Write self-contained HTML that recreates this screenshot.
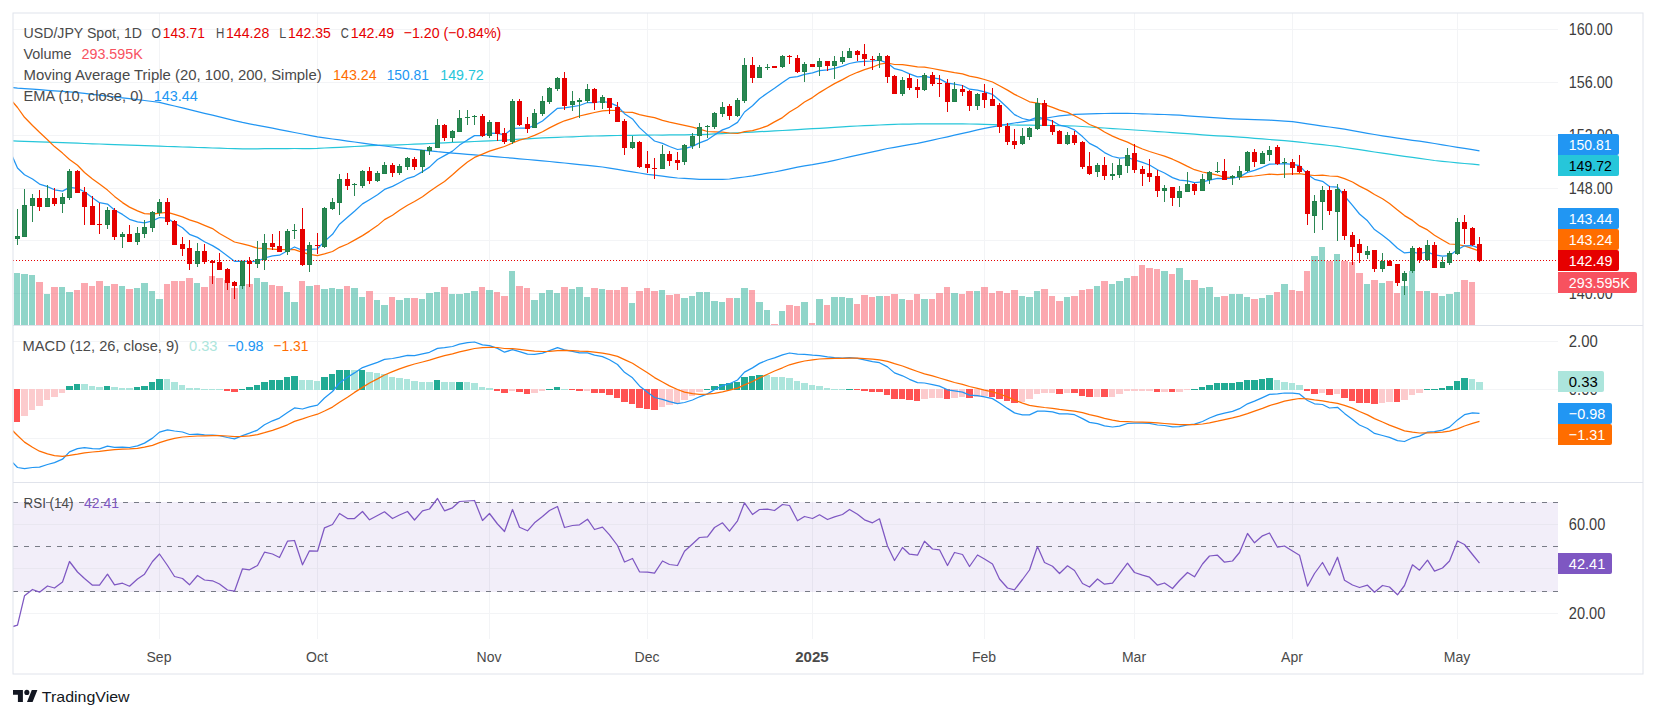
<!DOCTYPE html>
<html><head><meta charset="utf-8"><title>USD/JPY Spot, 1D</title>
<style>html,body{margin:0;padding:0;background:#fff}svg{display:block}</style></head>
<body>
<svg width="1656" height="718" viewBox="0 0 1656 718" font-family="'Liberation Sans', sans-serif">
<rect width="1656" height="718" fill="#fff"/>
<defs>
<clipPath id="cp1"><rect x="13" y="13" width="1545" height="312.5"/></clipPath>
<clipPath id="cp2"><rect x="13" y="325.5" width="1545" height="157.0"/></clipPath>
<clipPath id="cp3"><rect x="13" y="482.5" width="1545" height="156.5"/></clipPath>
</defs>
<g shape-rendering="crispEdges">
<rect x="159" y="13" width="1" height="626" fill="#f3f4f6"/>
<rect x="317" y="13" width="1" height="626" fill="#f3f4f6"/>
<rect x="489" y="13" width="1" height="626" fill="#f3f4f6"/>
<rect x="647" y="13" width="1" height="626" fill="#f3f4f6"/>
<rect x="812" y="13" width="1" height="626" fill="#f3f4f6"/>
<rect x="984" y="13" width="1" height="626" fill="#f3f4f6"/>
<rect x="1134" y="13" width="1" height="626" fill="#f3f4f6"/>
<rect x="1292" y="13" width="1" height="626" fill="#f3f4f6"/>
<rect x="1457" y="13" width="1" height="626" fill="#f3f4f6"/>
<rect x="13" y="29" width="1545" height="1" fill="#f3f4f6"/>
<rect x="13" y="82" width="1545" height="1" fill="#f3f4f6"/>
<rect x="13" y="135" width="1545" height="1" fill="#f3f4f6"/>
<rect x="13" y="188" width="1545" height="1" fill="#f3f4f6"/>
<rect x="13" y="240" width="1545" height="1" fill="#f3f4f6"/>
<rect x="13" y="293" width="1545" height="1" fill="#f3f4f6"/>
<rect x="13" y="341" width="1545" height="1" fill="#f3f4f6"/>
<rect x="13" y="389" width="1545" height="1" fill="#f3f4f6"/>
<rect x="13" y="438" width="1545" height="1" fill="#f3f4f6"/>
<rect x="13" y="502" width="1545" height="90" fill="#f2eef9"/>
<rect x="13" y="524" width="1545" height="1" fill="#e9e7f0"/>
<rect x="13" y="568" width="1545" height="1" fill="#e9e7f0"/>
<rect x="13" y="613" width="1545" height="1" fill="#f3f4f6"/>
<rect x="159" y="502" width="1" height="90" fill="#e6e3ef"/>
<rect x="317" y="502" width="1" height="90" fill="#e6e3ef"/>
<rect x="489" y="502" width="1" height="90" fill="#e6e3ef"/>
<rect x="647" y="502" width="1" height="90" fill="#e6e3ef"/>
<rect x="812" y="502" width="1" height="90" fill="#e6e3ef"/>
<rect x="984" y="502" width="1" height="90" fill="#e6e3ef"/>
<rect x="1134" y="502" width="1" height="90" fill="#e6e3ef"/>
<rect x="1292" y="502" width="1" height="90" fill="#e6e3ef"/>
<rect x="1457" y="502" width="1" height="90" fill="#e6e3ef"/>
<line x1="13" y1="502.5" x2="1558" y2="502.5" stroke="#787b86" stroke-width="1" stroke-dasharray="5 6"/>
<line x1="13" y1="546.5" x2="1558" y2="546.5" stroke="#787b86" stroke-width="1" stroke-dasharray="5 6"/>
<line x1="13" y1="591.5" x2="1558" y2="591.5" stroke="#787b86" stroke-width="1" stroke-dasharray="5 6"/>
</g>
<g shape-rendering="crispEdges">
<rect x="14" y="273" width="6" height="52" fill="#22ab94" fill-opacity="0.5"/>
<rect x="21" y="274" width="7" height="51" fill="#22ab94" fill-opacity="0.5"/>
<rect x="29" y="275" width="6" height="50" fill="#22ab94" fill-opacity="0.5"/>
<rect x="36" y="282" width="7" height="43" fill="#f7525f" fill-opacity="0.5"/>
<rect x="44" y="294" width="6" height="31" fill="#22ab94" fill-opacity="0.5"/>
<rect x="51" y="287" width="7" height="38" fill="#f7525f" fill-opacity="0.5"/>
<rect x="59" y="287" width="6" height="38" fill="#22ab94" fill-opacity="0.5"/>
<rect x="66" y="292" width="7" height="33" fill="#22ab94" fill-opacity="0.5"/>
<rect x="74" y="290" width="6" height="35" fill="#f7525f" fill-opacity="0.5"/>
<rect x="81" y="283" width="7" height="42" fill="#f7525f" fill-opacity="0.5"/>
<rect x="89" y="286" width="6" height="39" fill="#f7525f" fill-opacity="0.5"/>
<rect x="96" y="281" width="7" height="44" fill="#f7525f" fill-opacity="0.5"/>
<rect x="104" y="286" width="6" height="39" fill="#22ab94" fill-opacity="0.5"/>
<rect x="111" y="284" width="7" height="41" fill="#f7525f" fill-opacity="0.5"/>
<rect x="119" y="286" width="6" height="39" fill="#22ab94" fill-opacity="0.5"/>
<rect x="126" y="289" width="7" height="36" fill="#f7525f" fill-opacity="0.5"/>
<rect x="134" y="288" width="6" height="37" fill="#22ab94" fill-opacity="0.5"/>
<rect x="141" y="283" width="7" height="42" fill="#22ab94" fill-opacity="0.5"/>
<rect x="149" y="291" width="6" height="34" fill="#22ab94" fill-opacity="0.5"/>
<rect x="156" y="299" width="7" height="26" fill="#22ab94" fill-opacity="0.5"/>
<rect x="164" y="284" width="6" height="41" fill="#f7525f" fill-opacity="0.5"/>
<rect x="171" y="281" width="7" height="44" fill="#f7525f" fill-opacity="0.5"/>
<rect x="179" y="281" width="6" height="44" fill="#f7525f" fill-opacity="0.5"/>
<rect x="186" y="278" width="7" height="47" fill="#f7525f" fill-opacity="0.5"/>
<rect x="194" y="283" width="6" height="42" fill="#22ab94" fill-opacity="0.5"/>
<rect x="201" y="287" width="7" height="38" fill="#f7525f" fill-opacity="0.5"/>
<rect x="209" y="276" width="6" height="49" fill="#f7525f" fill-opacity="0.5"/>
<rect x="216" y="278" width="7" height="47" fill="#f7525f" fill-opacity="0.5"/>
<rect x="224" y="280" width="6" height="45" fill="#f7525f" fill-opacity="0.5"/>
<rect x="231" y="288" width="7" height="37" fill="#f7525f" fill-opacity="0.5"/>
<rect x="239" y="285" width="6" height="40" fill="#22ab94" fill-opacity="0.5"/>
<rect x="246" y="284" width="7" height="41" fill="#f7525f" fill-opacity="0.5"/>
<rect x="254" y="278" width="6" height="47" fill="#22ab94" fill-opacity="0.5"/>
<rect x="261" y="282" width="7" height="43" fill="#22ab94" fill-opacity="0.5"/>
<rect x="269" y="285" width="6" height="40" fill="#f7525f" fill-opacity="0.5"/>
<rect x="276" y="286" width="7" height="39" fill="#f7525f" fill-opacity="0.5"/>
<rect x="284" y="292" width="6" height="33" fill="#22ab94" fill-opacity="0.5"/>
<rect x="291" y="302" width="7" height="23" fill="#22ab94" fill-opacity="0.5"/>
<rect x="299" y="281" width="6" height="44" fill="#f7525f" fill-opacity="0.5"/>
<rect x="306" y="286" width="7" height="39" fill="#22ab94" fill-opacity="0.5"/>
<rect x="314" y="285" width="6" height="40" fill="#f7525f" fill-opacity="0.5"/>
<rect x="321" y="289" width="7" height="36" fill="#22ab94" fill-opacity="0.5"/>
<rect x="329" y="288" width="6" height="37" fill="#22ab94" fill-opacity="0.5"/>
<rect x="336" y="289" width="7" height="36" fill="#22ab94" fill-opacity="0.5"/>
<rect x="344" y="286" width="6" height="39" fill="#f7525f" fill-opacity="0.5"/>
<rect x="351" y="288" width="7" height="37" fill="#22ab94" fill-opacity="0.5"/>
<rect x="359" y="297" width="6" height="28" fill="#22ab94" fill-opacity="0.5"/>
<rect x="366" y="291" width="7" height="34" fill="#f7525f" fill-opacity="0.5"/>
<rect x="374" y="300" width="6" height="25" fill="#22ab94" fill-opacity="0.5"/>
<rect x="381" y="305" width="7" height="20" fill="#22ab94" fill-opacity="0.5"/>
<rect x="389" y="297" width="6" height="28" fill="#f7525f" fill-opacity="0.5"/>
<rect x="396" y="300" width="7" height="25" fill="#22ab94" fill-opacity="0.5"/>
<rect x="404" y="298" width="6" height="27" fill="#22ab94" fill-opacity="0.5"/>
<rect x="411" y="298" width="7" height="27" fill="#f7525f" fill-opacity="0.5"/>
<rect x="419" y="299" width="6" height="26" fill="#22ab94" fill-opacity="0.5"/>
<rect x="426" y="293" width="7" height="32" fill="#22ab94" fill-opacity="0.5"/>
<rect x="434" y="292" width="6" height="33" fill="#22ab94" fill-opacity="0.5"/>
<rect x="441" y="287" width="7" height="38" fill="#f7525f" fill-opacity="0.5"/>
<rect x="449" y="294" width="6" height="31" fill="#22ab94" fill-opacity="0.5"/>
<rect x="456" y="294" width="7" height="31" fill="#22ab94" fill-opacity="0.5"/>
<rect x="464" y="293" width="6" height="32" fill="#22ab94" fill-opacity="0.5"/>
<rect x="471" y="291" width="7" height="34" fill="#22ab94" fill-opacity="0.5"/>
<rect x="479" y="287" width="6" height="38" fill="#f7525f" fill-opacity="0.5"/>
<rect x="486" y="290" width="7" height="35" fill="#22ab94" fill-opacity="0.5"/>
<rect x="494" y="292" width="6" height="33" fill="#f7525f" fill-opacity="0.5"/>
<rect x="501" y="296" width="7" height="29" fill="#f7525f" fill-opacity="0.5"/>
<rect x="509" y="271" width="6" height="54" fill="#22ab94" fill-opacity="0.5"/>
<rect x="516" y="286" width="7" height="39" fill="#f7525f" fill-opacity="0.5"/>
<rect x="524" y="288" width="6" height="37" fill="#f7525f" fill-opacity="0.5"/>
<rect x="531" y="300" width="7" height="25" fill="#22ab94" fill-opacity="0.5"/>
<rect x="539" y="293" width="6" height="32" fill="#22ab94" fill-opacity="0.5"/>
<rect x="546" y="290" width="7" height="35" fill="#22ab94" fill-opacity="0.5"/>
<rect x="554" y="293" width="6" height="32" fill="#22ab94" fill-opacity="0.5"/>
<rect x="561" y="287" width="7" height="38" fill="#f7525f" fill-opacity="0.5"/>
<rect x="569" y="289" width="6" height="36" fill="#22ab94" fill-opacity="0.5"/>
<rect x="576" y="287" width="7" height="38" fill="#22ab94" fill-opacity="0.5"/>
<rect x="584" y="297" width="6" height="28" fill="#22ab94" fill-opacity="0.5"/>
<rect x="591" y="288" width="7" height="37" fill="#f7525f" fill-opacity="0.5"/>
<rect x="599" y="289" width="6" height="36" fill="#22ab94" fill-opacity="0.5"/>
<rect x="606" y="290" width="7" height="35" fill="#f7525f" fill-opacity="0.5"/>
<rect x="614" y="290" width="6" height="35" fill="#f7525f" fill-opacity="0.5"/>
<rect x="621" y="287" width="7" height="38" fill="#f7525f" fill-opacity="0.5"/>
<rect x="629" y="303" width="6" height="22" fill="#22ab94" fill-opacity="0.5"/>
<rect x="636" y="291" width="7" height="34" fill="#f7525f" fill-opacity="0.5"/>
<rect x="644" y="288" width="6" height="37" fill="#f7525f" fill-opacity="0.5"/>
<rect x="651" y="291" width="7" height="34" fill="#f7525f" fill-opacity="0.5"/>
<rect x="659" y="290" width="6" height="35" fill="#22ab94" fill-opacity="0.5"/>
<rect x="666" y="295" width="7" height="30" fill="#f7525f" fill-opacity="0.5"/>
<rect x="674" y="294" width="6" height="31" fill="#f7525f" fill-opacity="0.5"/>
<rect x="681" y="298" width="7" height="27" fill="#22ab94" fill-opacity="0.5"/>
<rect x="689" y="296" width="6" height="29" fill="#22ab94" fill-opacity="0.5"/>
<rect x="696" y="292" width="7" height="33" fill="#22ab94" fill-opacity="0.5"/>
<rect x="704" y="292" width="6" height="33" fill="#22ab94" fill-opacity="0.5"/>
<rect x="711" y="301" width="7" height="24" fill="#22ab94" fill-opacity="0.5"/>
<rect x="719" y="302" width="6" height="23" fill="#22ab94" fill-opacity="0.5"/>
<rect x="726" y="298" width="7" height="27" fill="#f7525f" fill-opacity="0.5"/>
<rect x="734" y="298" width="6" height="27" fill="#22ab94" fill-opacity="0.5"/>
<rect x="741" y="288" width="7" height="37" fill="#22ab94" fill-opacity="0.5"/>
<rect x="749" y="290" width="6" height="35" fill="#f7525f" fill-opacity="0.5"/>
<rect x="756" y="302" width="7" height="23" fill="#22ab94" fill-opacity="0.5"/>
<rect x="764" y="310" width="6" height="15" fill="#22ab94" fill-opacity="0.5"/>
<rect x="771" y="324" width="7" height="1" fill="#f7525f" fill-opacity="0.5"/>
<rect x="779" y="311" width="6" height="14" fill="#22ab94" fill-opacity="0.5"/>
<rect x="786" y="305" width="7" height="20" fill="#f7525f" fill-opacity="0.5"/>
<rect x="794" y="306" width="6" height="19" fill="#f7525f" fill-opacity="0.5"/>
<rect x="801" y="302" width="7" height="23" fill="#22ab94" fill-opacity="0.5"/>
<rect x="809" y="323" width="6" height="2" fill="#f7525f" fill-opacity="0.5"/>
<rect x="816" y="299" width="7" height="26" fill="#22ab94" fill-opacity="0.5"/>
<rect x="824" y="305" width="6" height="20" fill="#f7525f" fill-opacity="0.5"/>
<rect x="831" y="297" width="7" height="28" fill="#22ab94" fill-opacity="0.5"/>
<rect x="839" y="297" width="6" height="28" fill="#22ab94" fill-opacity="0.5"/>
<rect x="846" y="298" width="7" height="27" fill="#22ab94" fill-opacity="0.5"/>
<rect x="854" y="304" width="6" height="21" fill="#f7525f" fill-opacity="0.5"/>
<rect x="861" y="295" width="7" height="30" fill="#f7525f" fill-opacity="0.5"/>
<rect x="869" y="297" width="6" height="28" fill="#f7525f" fill-opacity="0.5"/>
<rect x="876" y="296" width="7" height="29" fill="#22ab94" fill-opacity="0.5"/>
<rect x="884" y="296" width="6" height="29" fill="#f7525f" fill-opacity="0.5"/>
<rect x="891" y="294" width="7" height="31" fill="#f7525f" fill-opacity="0.5"/>
<rect x="899" y="299" width="6" height="26" fill="#22ab94" fill-opacity="0.5"/>
<rect x="906" y="300" width="7" height="25" fill="#f7525f" fill-opacity="0.5"/>
<rect x="914" y="294" width="6" height="31" fill="#f7525f" fill-opacity="0.5"/>
<rect x="921" y="299" width="7" height="26" fill="#22ab94" fill-opacity="0.5"/>
<rect x="929" y="299" width="6" height="26" fill="#f7525f" fill-opacity="0.5"/>
<rect x="936" y="293" width="7" height="32" fill="#f7525f" fill-opacity="0.5"/>
<rect x="944" y="287" width="6" height="38" fill="#f7525f" fill-opacity="0.5"/>
<rect x="951" y="293" width="7" height="32" fill="#22ab94" fill-opacity="0.5"/>
<rect x="959" y="294" width="6" height="31" fill="#f7525f" fill-opacity="0.5"/>
<rect x="966" y="291" width="7" height="34" fill="#f7525f" fill-opacity="0.5"/>
<rect x="974" y="291" width="6" height="34" fill="#22ab94" fill-opacity="0.5"/>
<rect x="981" y="287" width="7" height="38" fill="#f7525f" fill-opacity="0.5"/>
<rect x="989" y="293" width="6" height="32" fill="#f7525f" fill-opacity="0.5"/>
<rect x="996" y="291" width="7" height="34" fill="#f7525f" fill-opacity="0.5"/>
<rect x="1004" y="293" width="6" height="32" fill="#f7525f" fill-opacity="0.5"/>
<rect x="1011" y="290" width="7" height="35" fill="#f7525f" fill-opacity="0.5"/>
<rect x="1019" y="296" width="6" height="29" fill="#22ab94" fill-opacity="0.5"/>
<rect x="1026" y="297" width="7" height="28" fill="#22ab94" fill-opacity="0.5"/>
<rect x="1034" y="291" width="6" height="34" fill="#22ab94" fill-opacity="0.5"/>
<rect x="1041" y="289" width="7" height="36" fill="#f7525f" fill-opacity="0.5"/>
<rect x="1049" y="296" width="6" height="29" fill="#f7525f" fill-opacity="0.5"/>
<rect x="1056" y="301" width="7" height="24" fill="#f7525f" fill-opacity="0.5"/>
<rect x="1064" y="297" width="6" height="28" fill="#22ab94" fill-opacity="0.5"/>
<rect x="1071" y="296" width="7" height="29" fill="#f7525f" fill-opacity="0.5"/>
<rect x="1079" y="290" width="6" height="35" fill="#f7525f" fill-opacity="0.5"/>
<rect x="1086" y="289" width="7" height="36" fill="#f7525f" fill-opacity="0.5"/>
<rect x="1094" y="286" width="6" height="39" fill="#22ab94" fill-opacity="0.5"/>
<rect x="1101" y="281" width="7" height="44" fill="#f7525f" fill-opacity="0.5"/>
<rect x="1109" y="284" width="6" height="41" fill="#22ab94" fill-opacity="0.5"/>
<rect x="1116" y="281" width="7" height="44" fill="#22ab94" fill-opacity="0.5"/>
<rect x="1124" y="278" width="6" height="47" fill="#22ab94" fill-opacity="0.5"/>
<rect x="1131" y="276" width="7" height="49" fill="#f7525f" fill-opacity="0.5"/>
<rect x="1139" y="265" width="6" height="60" fill="#f7525f" fill-opacity="0.5"/>
<rect x="1146" y="268" width="7" height="57" fill="#f7525f" fill-opacity="0.5"/>
<rect x="1154" y="269" width="6" height="56" fill="#f7525f" fill-opacity="0.5"/>
<rect x="1161" y="271" width="7" height="54" fill="#22ab94" fill-opacity="0.5"/>
<rect x="1169" y="274" width="6" height="51" fill="#f7525f" fill-opacity="0.5"/>
<rect x="1176" y="268" width="7" height="57" fill="#22ab94" fill-opacity="0.5"/>
<rect x="1184" y="280" width="6" height="45" fill="#22ab94" fill-opacity="0.5"/>
<rect x="1191" y="280" width="7" height="45" fill="#f7525f" fill-opacity="0.5"/>
<rect x="1199" y="288" width="6" height="37" fill="#22ab94" fill-opacity="0.5"/>
<rect x="1206" y="287" width="7" height="38" fill="#22ab94" fill-opacity="0.5"/>
<rect x="1214" y="297" width="6" height="28" fill="#22ab94" fill-opacity="0.5"/>
<rect x="1221" y="296" width="7" height="29" fill="#f7525f" fill-opacity="0.5"/>
<rect x="1229" y="294" width="6" height="31" fill="#22ab94" fill-opacity="0.5"/>
<rect x="1236" y="294" width="7" height="31" fill="#22ab94" fill-opacity="0.5"/>
<rect x="1244" y="297" width="6" height="28" fill="#22ab94" fill-opacity="0.5"/>
<rect x="1251" y="299" width="7" height="26" fill="#f7525f" fill-opacity="0.5"/>
<rect x="1259" y="298" width="6" height="27" fill="#22ab94" fill-opacity="0.5"/>
<rect x="1266" y="295" width="7" height="30" fill="#22ab94" fill-opacity="0.5"/>
<rect x="1274" y="292" width="6" height="33" fill="#f7525f" fill-opacity="0.5"/>
<rect x="1281" y="284" width="7" height="41" fill="#22ab94" fill-opacity="0.5"/>
<rect x="1289" y="290" width="6" height="35" fill="#f7525f" fill-opacity="0.5"/>
<rect x="1296" y="291" width="7" height="34" fill="#f7525f" fill-opacity="0.5"/>
<rect x="1304" y="271" width="6" height="54" fill="#f7525f" fill-opacity="0.5"/>
<rect x="1311" y="256" width="7" height="69" fill="#22ab94" fill-opacity="0.5"/>
<rect x="1319" y="247" width="6" height="78" fill="#22ab94" fill-opacity="0.5"/>
<rect x="1326" y="261" width="7" height="64" fill="#f7525f" fill-opacity="0.5"/>
<rect x="1334" y="254" width="6" height="71" fill="#22ab94" fill-opacity="0.5"/>
<rect x="1341" y="261" width="7" height="64" fill="#f7525f" fill-opacity="0.5"/>
<rect x="1349" y="262" width="6" height="63" fill="#f7525f" fill-opacity="0.5"/>
<rect x="1356" y="273" width="7" height="52" fill="#f7525f" fill-opacity="0.5"/>
<rect x="1364" y="284" width="6" height="41" fill="#22ab94" fill-opacity="0.5"/>
<rect x="1371" y="280" width="7" height="45" fill="#f7525f" fill-opacity="0.5"/>
<rect x="1379" y="283" width="6" height="42" fill="#22ab94" fill-opacity="0.5"/>
<rect x="1386" y="281" width="7" height="44" fill="#f7525f" fill-opacity="0.5"/>
<rect x="1394" y="293" width="6" height="32" fill="#f7525f" fill-opacity="0.5"/>
<rect x="1401" y="286" width="7" height="39" fill="#22ab94" fill-opacity="0.5"/>
<rect x="1409" y="271" width="6" height="54" fill="#22ab94" fill-opacity="0.5"/>
<rect x="1416" y="291" width="7" height="34" fill="#f7525f" fill-opacity="0.5"/>
<rect x="1424" y="291" width="6" height="34" fill="#22ab94" fill-opacity="0.5"/>
<rect x="1431" y="293" width="7" height="32" fill="#f7525f" fill-opacity="0.5"/>
<rect x="1439" y="296" width="6" height="29" fill="#22ab94" fill-opacity="0.5"/>
<rect x="1446" y="294" width="7" height="31" fill="#22ab94" fill-opacity="0.5"/>
<rect x="1454" y="292" width="6" height="33" fill="#22ab94" fill-opacity="0.5"/>
<rect x="1461" y="280" width="7" height="45" fill="#f7525f" fill-opacity="0.5"/>
<rect x="1469" y="282" width="6" height="43" fill="#f7525f" fill-opacity="0.5"/>
</g>
<g clip-path="url(#cp1)">
<polyline points="9.5,140.8 17.5,141.1 24.5,141.3 32.5,141.6 39.5,141.9 47.5,142.1 54.5,142.4 62.5,142.7 69.5,142.9 77.5,143.2 84.5,143.5 92.5,143.8 99.5,144.0 107.5,144.3 114.5,144.6 122.5,144.9 129.5,145.1 137.5,145.4 144.5,145.7 152.5,145.9 159.5,146.2 167.5,146.5 174.5,146.7 182.5,147.0 189.5,147.2 197.5,147.5 204.5,147.7 212.5,148.0 219.5,148.2 227.5,148.5 234.5,148.7 242.5,148.9 249.5,148.8 257.5,148.8 264.5,148.7 272.5,148.7 279.5,148.6 287.5,148.6 294.5,148.5 302.5,148.5 309.5,148.5 317.5,148.4 324.5,148.0 332.5,147.6 339.5,147.3 347.5,146.9 354.5,146.5 362.5,146.1 369.5,145.7 377.5,145.4 384.5,145.2 392.5,145.1 399.5,144.9 407.5,144.5 414.5,144.2 422.5,143.8 429.5,143.5 437.5,143.1 444.5,142.8 452.5,142.4 459.5,142.1 467.5,141.8 474.5,141.5 482.5,141.2 489.5,140.9 497.5,140.5 504.5,140.1 512.5,139.6 519.5,139.2 527.5,138.8 534.5,138.4 542.5,137.9 549.5,137.6 557.5,137.3 564.5,137.0 572.5,136.8 579.5,136.5 587.5,136.2 594.5,136.0 602.5,135.8 609.5,135.7 617.5,135.5 624.5,135.4 632.5,135.3 639.5,135.2 647.5,135.1 654.5,135.0 662.5,135.0 669.5,134.9 677.5,134.8 684.5,134.8 692.5,134.7 699.5,134.6 707.5,134.3 714.5,133.9 722.5,133.6 729.5,133.2 737.5,132.8 744.5,132.5 752.5,132.1 759.5,131.7 767.5,131.3 774.5,130.9 782.5,130.5 789.5,130.1 797.5,129.6 804.5,129.2 812.5,128.7 819.5,128.3 827.5,127.8 834.5,127.4 842.5,126.9 849.5,126.4 857.5,126.0 864.5,125.7 872.5,125.3 879.5,125.0 887.5,124.6 894.5,124.3 902.5,124.0 909.5,124.0 917.5,123.9 924.5,123.9 932.5,123.9 939.5,123.9 947.5,123.8 954.5,123.8 962.5,123.8 969.5,124.0 977.5,124.2 984.5,124.4 992.5,124.6 999.5,124.8 1007.5,124.9 1014.5,125.0 1022.5,125.1 1029.5,125.2 1037.5,125.3 1044.5,125.4 1052.5,125.5 1059.5,125.7 1067.5,125.8 1074.5,126.0 1082.5,126.5 1089.5,127.0 1097.5,127.6 1104.5,128.0 1112.5,128.6 1119.5,129.0 1127.5,129.5 1134.5,130.0 1142.5,130.5 1149.5,131.0 1157.5,131.6 1164.5,132.0 1172.5,132.6 1179.5,133.1 1187.5,133.7 1194.5,134.2 1202.5,134.8 1209.5,135.3 1217.5,135.8 1224.5,136.2 1232.5,136.6 1239.5,137.1 1247.5,137.7 1254.5,138.3 1262.5,138.9 1269.5,139.5 1277.5,140.1 1284.5,140.7 1292.5,141.3 1299.5,142.1 1307.5,143.0 1314.5,143.8 1322.5,144.7 1329.5,145.5 1337.5,146.4 1344.5,147.5 1352.5,148.7 1359.5,149.7 1367.5,150.9 1374.5,152.0 1382.5,153.2 1389.5,154.2 1397.5,155.3 1404.5,156.3 1412.5,157.4 1419.5,158.4 1427.5,159.5 1434.5,160.5 1442.5,161.3 1449.5,162.0 1457.5,162.8 1464.5,163.5 1472.5,164.2 1479.5,164.9" fill="none" stroke="#26c6da" stroke-width="1.25" stroke-linejoin="round" stroke-linecap="butt"/>
<polyline points="9.5,87.3 17.5,88.1 24.5,88.6 32.5,89.2 39.5,89.7 47.5,90.3 54.5,90.8 62.5,91.4 69.5,91.9 77.5,92.6 84.5,93.4 92.5,94.4 99.5,95.2 107.5,96.1 114.5,97.0 122.5,97.9 129.5,98.7 137.5,99.7 144.5,100.5 152.5,101.5 159.5,102.3 167.5,104.3 174.5,106.0 182.5,107.9 189.5,109.6 197.5,111.6 204.5,113.3 212.5,115.2 219.5,116.9 227.5,118.9 234.5,120.6 242.5,122.4 249.5,123.8 257.5,125.3 264.5,126.7 272.5,128.2 279.5,129.6 287.5,131.1 294.5,132.5 302.5,134.0 309.5,135.4 317.5,136.9 324.5,137.9 332.5,139.0 339.5,139.9 347.5,141.1 354.5,142.0 362.5,143.1 369.5,144.1 377.5,145.2 384.5,146.0 392.5,147.0 399.5,147.8 407.5,148.7 414.5,149.3 422.5,150.2 429.5,150.8 437.5,151.7 444.5,152.3 452.5,153.1 459.5,153.7 467.5,154.3 474.5,154.9 482.5,155.5 489.5,156.1 497.5,156.8 504.5,157.5 512.5,158.2 519.5,158.8 527.5,159.5 534.5,160.2 542.5,160.9 549.5,161.5 557.5,162.3 564.5,163.0 572.5,163.8 579.5,164.6 587.5,165.4 594.5,166.1 602.5,167.0 609.5,168.1 617.5,169.4 624.5,170.6 632.5,171.9 639.5,173.0 647.5,174.3 654.5,175.2 662.5,176.2 669.5,177.1 677.5,178.0 684.5,178.4 692.5,178.9 699.5,179.3 707.5,179.4 714.5,179.4 722.5,179.4 729.5,179.0 737.5,177.9 744.5,177.0 752.5,175.9 759.5,174.7 767.5,173.2 774.5,172.0 782.5,170.3 789.5,168.9 797.5,167.2 804.5,165.9 812.5,164.6 819.5,163.3 827.5,161.8 834.5,160.3 842.5,158.5 849.5,156.9 857.5,155.2 864.5,153.6 872.5,151.8 879.5,150.3 887.5,148.5 894.5,147.3 902.5,145.9 909.5,144.7 917.5,143.4 924.5,141.8 932.5,140.1 939.5,138.5 947.5,136.8 954.5,135.2 962.5,133.4 969.5,131.8 977.5,129.9 984.5,128.3 992.5,126.9 999.5,125.7 1007.5,124.2 1014.5,123.0 1022.5,121.8 1029.5,120.7 1037.5,119.5 1044.5,118.4 1052.5,117.0 1059.5,115.9 1067.5,115.1 1074.5,114.4 1082.5,114.1 1089.5,113.9 1097.5,113.6 1104.5,113.5 1112.5,113.4 1119.5,113.4 1127.5,113.3 1134.5,113.5 1142.5,113.8 1149.5,114.0 1157.5,114.3 1164.5,114.5 1172.5,114.9 1179.5,115.2 1187.5,115.8 1194.5,116.3 1202.5,116.9 1209.5,117.3 1217.5,117.8 1224.5,118.3 1232.5,118.8 1239.5,119.1 1247.5,119.4 1254.5,119.7 1262.5,119.9 1269.5,120.2 1277.5,120.7 1284.5,121.1 1292.5,121.7 1299.5,122.7 1307.5,123.9 1314.5,124.9 1322.5,126.1 1329.5,127.0 1337.5,128.2 1344.5,129.1 1352.5,130.6 1359.5,131.8 1367.5,133.3 1374.5,134.5 1382.5,135.8 1389.5,136.9 1397.5,138.1 1404.5,139.1 1412.5,140.3 1419.5,141.2 1427.5,142.4 1434.5,143.5 1442.5,144.9 1449.5,146.0 1457.5,147.3 1464.5,148.4 1472.5,149.7 1479.5,150.8" fill="none" stroke="#2196f3" stroke-width="1.25" stroke-linejoin="round" stroke-linecap="butt"/>
<polyline points="9.5,98.0 17.5,107.5 24.5,117.3 32.5,125.5 39.5,132.3 47.5,139.7 54.5,146.6 62.5,153.1 69.5,159.5 77.5,165.3 84.5,172.5 92.5,179.1 99.5,184.1 107.5,190.1 114.5,196.4 122.5,202.6 129.5,207.1 137.5,210.9 144.5,213.7 152.5,214.2 159.5,213.1 167.5,212.4 174.5,214.4 182.5,216.9 189.5,219.8 197.5,222.4 204.5,225.3 212.5,228.6 219.5,233.5 227.5,238.0 234.5,242.0 242.5,243.8 249.5,245.7 257.5,248.2 264.5,248.5 272.5,249.1 279.5,249.6 287.5,249.5 294.5,249.7 302.5,252.3 309.5,254.4 317.5,255.7 324.5,253.9 332.5,251.5 339.5,247.3 347.5,244.0 354.5,240.1 362.5,235.6 369.5,231.1 377.5,225.6 384.5,219.6 392.5,215.2 399.5,210.3 407.5,205.3 414.5,201.5 422.5,196.7 429.5,191.4 437.5,186.1 444.5,181.5 452.5,174.8 459.5,168.5 467.5,162.0 474.5,157.4 482.5,154.1 489.5,151.2 497.5,148.6 504.5,146.5 512.5,143.0 519.5,140.2 527.5,138.0 534.5,135.4 542.5,131.8 549.5,127.9 557.5,123.9 564.5,120.8 572.5,118.4 579.5,116.0 587.5,114.2 594.5,112.5 602.5,110.8 609.5,110.3 617.5,110.5 624.5,112.1 632.5,112.4 639.5,114.6 647.5,116.3 654.5,117.7 662.5,120.4 669.5,122.1 677.5,123.8 684.5,125.4 692.5,127.2 699.5,129.1 707.5,131.5 714.5,131.9 722.5,132.2 729.5,133.0 737.5,133.5 744.5,131.6 752.5,130.7 759.5,128.6 767.5,125.9 774.5,121.9 782.5,117.6 789.5,112.0 797.5,107.2 804.5,102.0 812.5,97.6 819.5,92.6 827.5,87.8 834.5,83.6 842.5,79.6 849.5,75.8 857.5,72.3 864.5,69.6 872.5,67.2 879.5,64.2 887.5,63.0 894.5,64.5 902.5,64.6 909.5,65.6 917.5,66.8 924.5,67.1 932.5,68.5 939.5,69.9 947.5,71.4 954.5,72.7 962.5,73.9 969.5,76.2 977.5,77.6 984.5,79.5 992.5,82.0 999.5,85.7 1007.5,90.1 1014.5,94.4 1022.5,98.2 1029.5,101.8 1037.5,103.1 1044.5,104.7 1052.5,107.3 1059.5,110.1 1067.5,112.4 1074.5,115.8 1082.5,120.0 1089.5,124.5 1097.5,127.6 1104.5,132.0 1112.5,136.1 1119.5,139.1 1127.5,142.1 1134.5,145.6 1142.5,149.0 1149.5,151.5 1157.5,154.0 1164.5,156.1 1172.5,159.2 1179.5,162.4 1187.5,166.4 1194.5,169.7 1202.5,172.0 1209.5,173.4 1217.5,175.2 1224.5,177.1 1232.5,177.5 1239.5,177.4 1247.5,176.7 1254.5,176.0 1262.5,175.0 1269.5,174.2 1277.5,174.6 1284.5,174.2 1292.5,173.9 1299.5,173.7 1307.5,174.8 1314.5,175.5 1322.5,175.1 1329.5,176.0 1337.5,176.3 1344.5,178.6 1352.5,182.0 1359.5,186.1 1367.5,190.1 1374.5,194.5 1382.5,198.8 1389.5,203.5 1397.5,210.0 1404.5,215.6 1412.5,220.4 1419.5,225.9 1427.5,229.9 1434.5,235.2 1442.5,240.0 1449.5,244.0 1457.5,244.5 1464.5,245.8 1472.5,248.6 1479.5,251.1" fill="none" stroke="#ff6d00" stroke-width="1.25" stroke-linejoin="round" stroke-linecap="butt"/>
<polyline points="9.5,150.0 17.5,168.0 24.5,174.8 32.5,179.0 39.5,184.1 47.5,186.6 54.5,189.8 62.5,191.1 69.5,187.4 77.5,188.4 84.5,191.7 92.5,197.7 99.5,202.7 107.5,204.1 114.5,210.0 122.5,214.4 129.5,219.3 137.5,221.9 144.5,222.8 152.5,220.9 159.5,217.5 167.5,218.2 174.5,223.0 182.5,227.7 189.5,234.3 197.5,237.4 204.5,241.8 212.5,245.6 219.5,249.9 227.5,255.9 234.5,261.3 242.5,261.2 249.5,261.6 257.5,261.2 264.5,258.0 272.5,255.9 279.5,255.2 287.5,250.8 294.5,247.0 302.5,250.3 309.5,249.3 317.5,248.8 324.5,241.4 332.5,234.3 339.5,224.2 347.5,217.2 354.5,211.2 362.5,203.9 369.5,199.7 377.5,194.8 384.5,189.4 392.5,186.4 399.5,182.7 407.5,178.3 414.5,176.3 422.5,171.6 429.5,167.1 437.5,159.5 444.5,155.6 452.5,151.1 459.5,145.1 467.5,139.9 474.5,135.6 482.5,135.6 489.5,133.2 497.5,133.3 504.5,134.8 512.5,128.6 519.5,128.0 527.5,128.1 534.5,125.4 542.5,121.0 549.5,115.0 557.5,108.3 564.5,107.8 572.5,106.6 579.5,105.5 587.5,102.5 594.5,102.5 602.5,101.5 609.5,102.7 617.5,106.1 624.5,113.7 632.5,118.9 639.5,127.6 647.5,134.9 654.5,141.0 662.5,143.4 669.5,146.5 677.5,149.5 684.5,148.7 692.5,146.4 699.5,142.9 707.5,139.8 714.5,134.9 722.5,129.9 729.5,127.3 737.5,122.4 744.5,112.0 752.5,105.7 759.5,98.7 767.5,92.9 774.5,88.3 782.5,82.4 789.5,77.7 797.5,76.6 804.5,74.3 812.5,72.9 819.5,70.7 827.5,69.8 834.5,68.3 842.5,66.2 849.5,63.5 857.5,61.9 864.5,61.3 872.5,61.0 879.5,60.1 887.5,63.1 894.5,68.7 902.5,70.7 909.5,73.9 917.5,76.8 924.5,76.4 932.5,77.8 939.5,78.9 947.5,83.1 954.5,84.2 962.5,85.5 969.5,89.2 977.5,90.1 984.5,91.8 992.5,94.4 999.5,100.3 1007.5,107.8 1014.5,114.6 1022.5,118.5 1029.5,120.2 1037.5,117.1 1044.5,118.7 1052.5,121.1 1059.5,125.2 1067.5,127.0 1074.5,129.9 1082.5,136.6 1089.5,143.4 1097.5,147.4 1104.5,152.6 1112.5,156.5 1119.5,158.1 1127.5,157.5 1134.5,159.8 1142.5,162.4 1149.5,165.0 1157.5,169.7 1164.5,173.0 1172.5,177.6 1179.5,180.1 1187.5,180.8 1194.5,182.6 1202.5,181.9 1209.5,180.1 1217.5,178.4 1224.5,178.6 1232.5,178.2 1239.5,176.9 1247.5,172.4 1254.5,170.4 1262.5,167.3 1269.5,164.1 1277.5,164.0 1284.5,163.7 1292.5,164.4 1299.5,165.7 1307.5,174.4 1314.5,179.3 1322.5,181.3 1329.5,186.6 1337.5,187.1 1344.5,196.0 1352.5,205.3 1359.5,214.0 1367.5,220.8 1374.5,229.6 1382.5,235.3 1389.5,240.7 1397.5,248.3 1404.5,252.9 1412.5,252.1 1419.5,253.5 1427.5,252.0 1434.5,254.8 1442.5,256.2 1449.5,255.7 1457.5,249.6 1464.5,245.8 1472.5,245.7 1479.5,248.4" fill="none" stroke="#2196f3" stroke-width="1.25" stroke-linejoin="round" stroke-linecap="butt"/>
</g>
<line x1="13" y1="260.5" x2="1558" y2="260.5" stroke="#e60000" stroke-width="1" stroke-dasharray="1 2" shape-rendering="crispEdges"/>
<g shape-rendering="crispEdges">
<rect x="17" y="209" width="1" height="27" fill="#2a8652"/>
<rect x="17" y="239" width="1" height="6" fill="#2a8652"/>
<rect x="15" y="236" width="5" height="3" fill="#1f8149"/>
<rect x="16" y="237" width="3" height="1" fill="#2a8652"/>
<rect x="24" y="189" width="1" height="16" fill="#2a8652"/>
<rect x="22" y="205" width="5" height="32" fill="#1f8149"/>
<rect x="23" y="206" width="3" height="30" fill="#2a8652"/>
<rect x="32" y="194" width="1" height="4" fill="#2a8652"/>
<rect x="32" y="206" width="1" height="16" fill="#2a8652"/>
<rect x="30" y="198" width="5" height="8" fill="#1f8149"/>
<rect x="31" y="199" width="3" height="6" fill="#2a8652"/>
<rect x="39" y="190" width="1" height="8" fill="#e60000"/>
<rect x="39" y="207" width="1" height="4" fill="#e60000"/>
<rect x="37" y="198" width="5" height="9" fill="#e60000"/>
<rect x="47" y="185" width="1" height="13" fill="#2a8652"/>
<rect x="45" y="198" width="5" height="9" fill="#1f8149"/>
<rect x="46" y="199" width="3" height="7" fill="#2a8652"/>
<rect x="54" y="188" width="1" height="10" fill="#e60000"/>
<rect x="54" y="204" width="1" height="2" fill="#e60000"/>
<rect x="52" y="198" width="5" height="6" fill="#e60000"/>
<rect x="62" y="193" width="1" height="4" fill="#2a8652"/>
<rect x="62" y="204" width="1" height="9" fill="#2a8652"/>
<rect x="60" y="197" width="5" height="7" fill="#1f8149"/>
<rect x="61" y="198" width="3" height="5" fill="#2a8652"/>
<rect x="69" y="169" width="1" height="2" fill="#2a8652"/>
<rect x="69" y="198" width="1" height="2" fill="#2a8652"/>
<rect x="67" y="171" width="5" height="27" fill="#1f8149"/>
<rect x="68" y="172" width="3" height="25" fill="#2a8652"/>
<rect x="77" y="170" width="1" height="1" fill="#e60000"/>
<rect x="75" y="171" width="5" height="22" fill="#e60000"/>
<rect x="84" y="187" width="1" height="5" fill="#e60000"/>
<rect x="84" y="207" width="1" height="18" fill="#e60000"/>
<rect x="82" y="192" width="5" height="15" fill="#e60000"/>
<rect x="92" y="196" width="1" height="10" fill="#e60000"/>
<rect x="90" y="206" width="5" height="19" fill="#e60000"/>
<rect x="99" y="203" width="1" height="21" fill="#e60000"/>
<rect x="99" y="225" width="1" height="9" fill="#e60000"/>
<rect x="97" y="224" width="5" height="1" fill="#e60000"/>
<rect x="107" y="207" width="1" height="3" fill="#2a8652"/>
<rect x="107" y="225" width="1" height="4" fill="#2a8652"/>
<rect x="105" y="210" width="5" height="15" fill="#1f8149"/>
<rect x="106" y="211" width="3" height="13" fill="#2a8652"/>
<rect x="114" y="208" width="1" height="2" fill="#e60000"/>
<rect x="114" y="237" width="1" height="3" fill="#e60000"/>
<rect x="112" y="210" width="5" height="27" fill="#e60000"/>
<rect x="122" y="232" width="1" height="2" fill="#2a8652"/>
<rect x="122" y="237" width="1" height="11" fill="#2a8652"/>
<rect x="120" y="234" width="5" height="3" fill="#1f8149"/>
<rect x="121" y="235" width="3" height="1" fill="#2a8652"/>
<rect x="129" y="225" width="1" height="9" fill="#e60000"/>
<rect x="127" y="234" width="5" height="8" fill="#e60000"/>
<rect x="137" y="227" width="1" height="6" fill="#2a8652"/>
<rect x="137" y="242" width="1" height="3" fill="#2a8652"/>
<rect x="135" y="233" width="5" height="9" fill="#1f8149"/>
<rect x="136" y="234" width="3" height="7" fill="#2a8652"/>
<rect x="144" y="220" width="1" height="7" fill="#2a8652"/>
<rect x="144" y="234" width="1" height="4" fill="#2a8652"/>
<rect x="142" y="227" width="5" height="7" fill="#1f8149"/>
<rect x="143" y="228" width="3" height="5" fill="#2a8652"/>
<rect x="152" y="211" width="1" height="1" fill="#2a8652"/>
<rect x="152" y="228" width="1" height="4" fill="#2a8652"/>
<rect x="150" y="212" width="5" height="16" fill="#1f8149"/>
<rect x="151" y="213" width="3" height="14" fill="#2a8652"/>
<rect x="159" y="199" width="1" height="3" fill="#2a8652"/>
<rect x="159" y="213" width="1" height="3" fill="#2a8652"/>
<rect x="157" y="202" width="5" height="11" fill="#1f8149"/>
<rect x="158" y="203" width="3" height="9" fill="#2a8652"/>
<rect x="167" y="198" width="1" height="4" fill="#e60000"/>
<rect x="167" y="222" width="1" height="3" fill="#e60000"/>
<rect x="165" y="202" width="5" height="20" fill="#e60000"/>
<rect x="174" y="220" width="1" height="1" fill="#e60000"/>
<rect x="172" y="221" width="5" height="24" fill="#e60000"/>
<rect x="182" y="237" width="1" height="7" fill="#e60000"/>
<rect x="182" y="249" width="1" height="7" fill="#e60000"/>
<rect x="180" y="244" width="5" height="5" fill="#e60000"/>
<rect x="189" y="240" width="1" height="8" fill="#e60000"/>
<rect x="189" y="264" width="1" height="6" fill="#e60000"/>
<rect x="187" y="248" width="5" height="16" fill="#e60000"/>
<rect x="197" y="243" width="1" height="8" fill="#2a8652"/>
<rect x="197" y="264" width="1" height="3" fill="#2a8652"/>
<rect x="195" y="251" width="5" height="13" fill="#1f8149"/>
<rect x="196" y="252" width="3" height="11" fill="#2a8652"/>
<rect x="204" y="244" width="1" height="7" fill="#e60000"/>
<rect x="204" y="262" width="1" height="2" fill="#e60000"/>
<rect x="202" y="251" width="5" height="11" fill="#e60000"/>
<rect x="212" y="260" width="1" height="1" fill="#e60000"/>
<rect x="212" y="263" width="1" height="21" fill="#e60000"/>
<rect x="210" y="261" width="5" height="2" fill="#e60000"/>
<rect x="219" y="253" width="1" height="9" fill="#e60000"/>
<rect x="217" y="262" width="5" height="8" fill="#e60000"/>
<rect x="227" y="268" width="1" height="1" fill="#e60000"/>
<rect x="227" y="283" width="1" height="7" fill="#e60000"/>
<rect x="225" y="269" width="5" height="14" fill="#e60000"/>
<rect x="234" y="281" width="1" height="1" fill="#e60000"/>
<rect x="234" y="286" width="1" height="13" fill="#e60000"/>
<rect x="232" y="282" width="5" height="4" fill="#e60000"/>
<rect x="242" y="286" width="1" height="3" fill="#2a8652"/>
<rect x="240" y="261" width="5" height="25" fill="#1f8149"/>
<rect x="241" y="262" width="3" height="23" fill="#2a8652"/>
<rect x="249" y="257" width="1" height="4" fill="#e60000"/>
<rect x="249" y="264" width="1" height="23" fill="#e60000"/>
<rect x="247" y="261" width="5" height="3" fill="#e60000"/>
<rect x="257" y="241" width="1" height="18" fill="#2a8652"/>
<rect x="257" y="264" width="1" height="4" fill="#2a8652"/>
<rect x="255" y="259" width="5" height="5" fill="#1f8149"/>
<rect x="256" y="260" width="3" height="3" fill="#2a8652"/>
<rect x="264" y="234" width="1" height="9" fill="#2a8652"/>
<rect x="264" y="260" width="1" height="10" fill="#2a8652"/>
<rect x="262" y="243" width="5" height="17" fill="#1f8149"/>
<rect x="263" y="244" width="3" height="15" fill="#2a8652"/>
<rect x="272" y="234" width="1" height="9" fill="#e60000"/>
<rect x="272" y="247" width="1" height="3" fill="#e60000"/>
<rect x="270" y="243" width="5" height="4" fill="#e60000"/>
<rect x="279" y="231" width="1" height="15" fill="#e60000"/>
<rect x="277" y="246" width="5" height="6" fill="#e60000"/>
<rect x="287" y="229" width="1" height="2" fill="#2a8652"/>
<rect x="287" y="252" width="1" height="3" fill="#2a8652"/>
<rect x="285" y="231" width="5" height="21" fill="#1f8149"/>
<rect x="286" y="232" width="3" height="19" fill="#2a8652"/>
<rect x="294" y="224" width="1" height="6" fill="#2a8652"/>
<rect x="294" y="231" width="1" height="8" fill="#2a8652"/>
<rect x="292" y="230" width="5" height="1" fill="#1f8149"/>
<rect x="302" y="208" width="1" height="21" fill="#e60000"/>
<rect x="302" y="265" width="1" height="1" fill="#e60000"/>
<rect x="300" y="229" width="5" height="36" fill="#e60000"/>
<rect x="309" y="242" width="1" height="3" fill="#2a8652"/>
<rect x="309" y="265" width="1" height="7" fill="#2a8652"/>
<rect x="307" y="245" width="5" height="20" fill="#1f8149"/>
<rect x="308" y="246" width="3" height="18" fill="#2a8652"/>
<rect x="317" y="233" width="1" height="12" fill="#e60000"/>
<rect x="317" y="246" width="1" height="8" fill="#e60000"/>
<rect x="315" y="245" width="5" height="1" fill="#e60000"/>
<rect x="324" y="207" width="1" height="1" fill="#2a8652"/>
<rect x="324" y="247" width="1" height="1" fill="#2a8652"/>
<rect x="322" y="208" width="5" height="39" fill="#1f8149"/>
<rect x="323" y="209" width="3" height="37" fill="#2a8652"/>
<rect x="332" y="198" width="1" height="4" fill="#2a8652"/>
<rect x="332" y="209" width="1" height="1" fill="#2a8652"/>
<rect x="330" y="202" width="5" height="7" fill="#1f8149"/>
<rect x="331" y="203" width="3" height="5" fill="#2a8652"/>
<rect x="339" y="174" width="1" height="5" fill="#2a8652"/>
<rect x="339" y="203" width="1" height="12" fill="#2a8652"/>
<rect x="337" y="179" width="5" height="24" fill="#1f8149"/>
<rect x="338" y="180" width="3" height="22" fill="#2a8652"/>
<rect x="347" y="173" width="1" height="6" fill="#e60000"/>
<rect x="347" y="186" width="1" height="4" fill="#e60000"/>
<rect x="345" y="179" width="5" height="7" fill="#e60000"/>
<rect x="354" y="183" width="1" height="1" fill="#2a8652"/>
<rect x="354" y="185" width="1" height="11" fill="#2a8652"/>
<rect x="352" y="184" width="5" height="1" fill="#1f8149"/>
<rect x="362" y="170" width="1" height="1" fill="#2a8652"/>
<rect x="362" y="186" width="1" height="2" fill="#2a8652"/>
<rect x="360" y="171" width="5" height="15" fill="#1f8149"/>
<rect x="361" y="172" width="3" height="13" fill="#2a8652"/>
<rect x="369" y="167" width="1" height="4" fill="#e60000"/>
<rect x="369" y="181" width="1" height="3" fill="#e60000"/>
<rect x="367" y="171" width="5" height="10" fill="#e60000"/>
<rect x="377" y="171" width="1" height="2" fill="#2a8652"/>
<rect x="377" y="181" width="1" height="1" fill="#2a8652"/>
<rect x="375" y="173" width="5" height="8" fill="#1f8149"/>
<rect x="376" y="174" width="3" height="6" fill="#2a8652"/>
<rect x="384" y="162" width="1" height="3" fill="#2a8652"/>
<rect x="382" y="165" width="5" height="9" fill="#1f8149"/>
<rect x="383" y="166" width="3" height="7" fill="#2a8652"/>
<rect x="392" y="163" width="1" height="2" fill="#e60000"/>
<rect x="392" y="173" width="1" height="4" fill="#e60000"/>
<rect x="390" y="165" width="5" height="8" fill="#e60000"/>
<rect x="399" y="164" width="1" height="2" fill="#2a8652"/>
<rect x="399" y="173" width="1" height="2" fill="#2a8652"/>
<rect x="397" y="166" width="5" height="7" fill="#1f8149"/>
<rect x="398" y="167" width="3" height="5" fill="#2a8652"/>
<rect x="407" y="157" width="1" height="1" fill="#2a8652"/>
<rect x="407" y="167" width="1" height="3" fill="#2a8652"/>
<rect x="405" y="158" width="5" height="9" fill="#1f8149"/>
<rect x="406" y="159" width="3" height="7" fill="#2a8652"/>
<rect x="414" y="157" width="1" height="2" fill="#e60000"/>
<rect x="414" y="167" width="1" height="3" fill="#e60000"/>
<rect x="412" y="159" width="5" height="8" fill="#e60000"/>
<rect x="422" y="167" width="1" height="6" fill="#2a8652"/>
<rect x="420" y="150" width="5" height="17" fill="#1f8149"/>
<rect x="421" y="151" width="3" height="15" fill="#2a8652"/>
<rect x="429" y="146" width="1" height="1" fill="#2a8652"/>
<rect x="429" y="151" width="1" height="4" fill="#2a8652"/>
<rect x="427" y="147" width="5" height="4" fill="#1f8149"/>
<rect x="428" y="148" width="3" height="2" fill="#2a8652"/>
<rect x="437" y="119" width="1" height="6" fill="#2a8652"/>
<rect x="435" y="125" width="5" height="23" fill="#1f8149"/>
<rect x="436" y="126" width="3" height="21" fill="#2a8652"/>
<rect x="444" y="124" width="1" height="1" fill="#e60000"/>
<rect x="444" y="138" width="1" height="3" fill="#e60000"/>
<rect x="442" y="125" width="5" height="13" fill="#e60000"/>
<rect x="452" y="130" width="1" height="1" fill="#2a8652"/>
<rect x="452" y="138" width="1" height="4" fill="#2a8652"/>
<rect x="450" y="131" width="5" height="7" fill="#1f8149"/>
<rect x="451" y="132" width="3" height="5" fill="#2a8652"/>
<rect x="459" y="110" width="1" height="8" fill="#2a8652"/>
<rect x="457" y="118" width="5" height="14" fill="#1f8149"/>
<rect x="458" y="119" width="3" height="12" fill="#2a8652"/>
<rect x="467" y="110" width="1" height="7" fill="#2a8652"/>
<rect x="467" y="118" width="1" height="7" fill="#2a8652"/>
<rect x="465" y="117" width="5" height="1" fill="#1f8149"/>
<rect x="474" y="115" width="1" height="1" fill="#2a8652"/>
<rect x="474" y="117" width="1" height="8" fill="#2a8652"/>
<rect x="472" y="116" width="5" height="1" fill="#1f8149"/>
<rect x="482" y="114" width="1" height="2" fill="#e60000"/>
<rect x="482" y="136" width="1" height="1" fill="#e60000"/>
<rect x="480" y="116" width="5" height="20" fill="#e60000"/>
<rect x="489" y="120" width="1" height="2" fill="#2a8652"/>
<rect x="489" y="136" width="1" height="2" fill="#2a8652"/>
<rect x="487" y="122" width="5" height="14" fill="#1f8149"/>
<rect x="488" y="123" width="3" height="12" fill="#2a8652"/>
<rect x="497" y="134" width="1" height="7" fill="#e60000"/>
<rect x="495" y="122" width="5" height="12" fill="#e60000"/>
<rect x="504" y="128" width="1" height="5" fill="#e60000"/>
<rect x="504" y="142" width="1" height="2" fill="#e60000"/>
<rect x="502" y="133" width="5" height="9" fill="#e60000"/>
<rect x="512" y="99" width="1" height="2" fill="#2a8652"/>
<rect x="512" y="142" width="1" height="2" fill="#2a8652"/>
<rect x="510" y="101" width="5" height="41" fill="#1f8149"/>
<rect x="511" y="102" width="3" height="39" fill="#2a8652"/>
<rect x="519" y="99" width="1" height="2" fill="#e60000"/>
<rect x="519" y="125" width="1" height="1" fill="#e60000"/>
<rect x="517" y="101" width="5" height="24" fill="#e60000"/>
<rect x="527" y="117" width="1" height="7" fill="#e60000"/>
<rect x="527" y="129" width="1" height="4" fill="#e60000"/>
<rect x="525" y="124" width="5" height="5" fill="#e60000"/>
<rect x="534" y="109" width="1" height="4" fill="#2a8652"/>
<rect x="532" y="113" width="5" height="15" fill="#1f8149"/>
<rect x="533" y="114" width="3" height="13" fill="#2a8652"/>
<rect x="542" y="96" width="1" height="5" fill="#2a8652"/>
<rect x="542" y="114" width="1" height="2" fill="#2a8652"/>
<rect x="540" y="101" width="5" height="13" fill="#1f8149"/>
<rect x="541" y="102" width="3" height="11" fill="#2a8652"/>
<rect x="549" y="87" width="1" height="1" fill="#2a8652"/>
<rect x="549" y="102" width="1" height="2" fill="#2a8652"/>
<rect x="547" y="88" width="5" height="14" fill="#1f8149"/>
<rect x="548" y="89" width="3" height="12" fill="#2a8652"/>
<rect x="557" y="77" width="1" height="1" fill="#2a8652"/>
<rect x="557" y="89" width="1" height="2" fill="#2a8652"/>
<rect x="555" y="78" width="5" height="11" fill="#1f8149"/>
<rect x="556" y="79" width="3" height="9" fill="#2a8652"/>
<rect x="564" y="72" width="1" height="6" fill="#e60000"/>
<rect x="564" y="106" width="1" height="4" fill="#e60000"/>
<rect x="562" y="78" width="5" height="28" fill="#e60000"/>
<rect x="572" y="91" width="1" height="10" fill="#2a8652"/>
<rect x="572" y="105" width="1" height="6" fill="#2a8652"/>
<rect x="570" y="101" width="5" height="4" fill="#1f8149"/>
<rect x="571" y="102" width="3" height="2" fill="#2a8652"/>
<rect x="579" y="98" width="1" height="2" fill="#2a8652"/>
<rect x="579" y="102" width="1" height="16" fill="#2a8652"/>
<rect x="577" y="100" width="5" height="2" fill="#1f8149"/>
<rect x="587" y="84" width="1" height="5" fill="#2a8652"/>
<rect x="587" y="101" width="1" height="2" fill="#2a8652"/>
<rect x="585" y="89" width="5" height="12" fill="#1f8149"/>
<rect x="586" y="90" width="3" height="10" fill="#2a8652"/>
<rect x="594" y="88" width="1" height="1" fill="#e60000"/>
<rect x="594" y="103" width="1" height="7" fill="#e60000"/>
<rect x="592" y="89" width="5" height="14" fill="#e60000"/>
<rect x="602" y="95" width="1" height="2" fill="#2a8652"/>
<rect x="602" y="103" width="1" height="6" fill="#2a8652"/>
<rect x="600" y="97" width="5" height="6" fill="#1f8149"/>
<rect x="601" y="98" width="3" height="4" fill="#2a8652"/>
<rect x="609" y="108" width="1" height="6" fill="#e60000"/>
<rect x="607" y="98" width="5" height="10" fill="#e60000"/>
<rect x="617" y="102" width="1" height="5" fill="#e60000"/>
<rect x="615" y="107" width="5" height="15" fill="#e60000"/>
<rect x="624" y="119" width="1" height="2" fill="#e60000"/>
<rect x="624" y="148" width="1" height="7" fill="#e60000"/>
<rect x="622" y="121" width="5" height="27" fill="#e60000"/>
<rect x="632" y="136" width="1" height="6" fill="#2a8652"/>
<rect x="632" y="148" width="1" height="1" fill="#2a8652"/>
<rect x="630" y="142" width="5" height="6" fill="#1f8149"/>
<rect x="631" y="143" width="3" height="4" fill="#2a8652"/>
<rect x="639" y="141" width="1" height="1" fill="#e60000"/>
<rect x="639" y="167" width="1" height="1" fill="#e60000"/>
<rect x="637" y="142" width="5" height="25" fill="#e60000"/>
<rect x="647" y="151" width="1" height="13" fill="#e60000"/>
<rect x="647" y="168" width="1" height="5" fill="#e60000"/>
<rect x="645" y="164" width="5" height="4" fill="#e60000"/>
<rect x="654" y="158" width="1" height="10" fill="#e60000"/>
<rect x="654" y="169" width="1" height="10" fill="#e60000"/>
<rect x="652" y="168" width="5" height="1" fill="#e60000"/>
<rect x="662" y="145" width="1" height="9" fill="#2a8652"/>
<rect x="660" y="154" width="5" height="15" fill="#1f8149"/>
<rect x="661" y="155" width="3" height="13" fill="#2a8652"/>
<rect x="669" y="151" width="1" height="3" fill="#e60000"/>
<rect x="669" y="161" width="1" height="5" fill="#e60000"/>
<rect x="667" y="154" width="5" height="7" fill="#e60000"/>
<rect x="677" y="152" width="1" height="8" fill="#e60000"/>
<rect x="677" y="163" width="1" height="7" fill="#e60000"/>
<rect x="675" y="160" width="5" height="3" fill="#e60000"/>
<rect x="684" y="144" width="1" height="1" fill="#2a8652"/>
<rect x="684" y="162" width="1" height="3" fill="#2a8652"/>
<rect x="682" y="145" width="5" height="17" fill="#1f8149"/>
<rect x="683" y="146" width="3" height="15" fill="#2a8652"/>
<rect x="692" y="133" width="1" height="3" fill="#2a8652"/>
<rect x="692" y="146" width="1" height="3" fill="#2a8652"/>
<rect x="690" y="136" width="5" height="10" fill="#1f8149"/>
<rect x="691" y="137" width="3" height="8" fill="#2a8652"/>
<rect x="699" y="123" width="1" height="4" fill="#2a8652"/>
<rect x="699" y="136" width="1" height="12" fill="#2a8652"/>
<rect x="697" y="127" width="5" height="9" fill="#1f8149"/>
<rect x="698" y="128" width="3" height="7" fill="#2a8652"/>
<rect x="707" y="125" width="1" height="1" fill="#2a8652"/>
<rect x="707" y="127" width="1" height="11" fill="#2a8652"/>
<rect x="705" y="126" width="5" height="1" fill="#1f8149"/>
<rect x="714" y="112" width="1" height="1" fill="#2a8652"/>
<rect x="714" y="127" width="1" height="2" fill="#2a8652"/>
<rect x="712" y="113" width="5" height="14" fill="#1f8149"/>
<rect x="713" y="114" width="3" height="12" fill="#2a8652"/>
<rect x="722" y="102" width="1" height="5" fill="#2a8652"/>
<rect x="722" y="114" width="1" height="3" fill="#2a8652"/>
<rect x="720" y="107" width="5" height="7" fill="#1f8149"/>
<rect x="721" y="108" width="3" height="5" fill="#2a8652"/>
<rect x="729" y="104" width="1" height="2" fill="#e60000"/>
<rect x="729" y="116" width="1" height="4" fill="#e60000"/>
<rect x="727" y="106" width="5" height="10" fill="#e60000"/>
<rect x="737" y="98" width="1" height="2" fill="#2a8652"/>
<rect x="737" y="116" width="1" height="1" fill="#2a8652"/>
<rect x="735" y="100" width="5" height="16" fill="#1f8149"/>
<rect x="736" y="101" width="3" height="14" fill="#2a8652"/>
<rect x="744" y="58" width="1" height="7" fill="#2a8652"/>
<rect x="744" y="101" width="1" height="2" fill="#2a8652"/>
<rect x="742" y="65" width="5" height="36" fill="#1f8149"/>
<rect x="743" y="66" width="3" height="34" fill="#2a8652"/>
<rect x="752" y="57" width="1" height="8" fill="#e60000"/>
<rect x="752" y="78" width="1" height="5" fill="#e60000"/>
<rect x="750" y="65" width="5" height="13" fill="#e60000"/>
<rect x="759" y="65" width="1" height="2" fill="#2a8652"/>
<rect x="757" y="67" width="5" height="11" fill="#1f8149"/>
<rect x="758" y="68" width="3" height="9" fill="#2a8652"/>
<rect x="767" y="64" width="1" height="3" fill="#2a8652"/>
<rect x="767" y="68" width="1" height="2" fill="#2a8652"/>
<rect x="765" y="67" width="5" height="1" fill="#1f8149"/>
<rect x="772" y="66" width="5" height="2" fill="#e60000"/>
<rect x="782" y="55" width="1" height="1" fill="#2a8652"/>
<rect x="782" y="67" width="1" height="1" fill="#2a8652"/>
<rect x="780" y="56" width="5" height="11" fill="#1f8149"/>
<rect x="781" y="57" width="3" height="9" fill="#2a8652"/>
<rect x="789" y="55" width="1" height="1" fill="#e60000"/>
<rect x="789" y="57" width="1" height="7" fill="#e60000"/>
<rect x="787" y="56" width="5" height="1" fill="#e60000"/>
<rect x="797" y="55" width="1" height="3" fill="#e60000"/>
<rect x="797" y="72" width="1" height="1" fill="#e60000"/>
<rect x="795" y="58" width="5" height="14" fill="#e60000"/>
<rect x="804" y="62" width="1" height="2" fill="#2a8652"/>
<rect x="804" y="72" width="1" height="10" fill="#2a8652"/>
<rect x="802" y="64" width="5" height="8" fill="#1f8149"/>
<rect x="803" y="65" width="3" height="6" fill="#2a8652"/>
<rect x="810" y="64" width="5" height="3" fill="#e60000"/>
<rect x="819" y="58" width="1" height="3" fill="#2a8652"/>
<rect x="819" y="67" width="1" height="9" fill="#2a8652"/>
<rect x="817" y="61" width="5" height="6" fill="#1f8149"/>
<rect x="818" y="62" width="3" height="4" fill="#2a8652"/>
<rect x="827" y="66" width="1" height="5" fill="#e60000"/>
<rect x="825" y="61" width="5" height="5" fill="#e60000"/>
<rect x="834" y="56" width="1" height="5" fill="#2a8652"/>
<rect x="834" y="66" width="1" height="13" fill="#2a8652"/>
<rect x="832" y="61" width="5" height="5" fill="#1f8149"/>
<rect x="833" y="62" width="3" height="3" fill="#2a8652"/>
<rect x="842" y="51" width="1" height="6" fill="#2a8652"/>
<rect x="842" y="62" width="1" height="2" fill="#2a8652"/>
<rect x="840" y="57" width="5" height="5" fill="#1f8149"/>
<rect x="841" y="58" width="3" height="3" fill="#2a8652"/>
<rect x="849" y="48" width="1" height="3" fill="#2a8652"/>
<rect x="847" y="51" width="5" height="7" fill="#1f8149"/>
<rect x="848" y="52" width="3" height="5" fill="#2a8652"/>
<rect x="857" y="50" width="1" height="1" fill="#e60000"/>
<rect x="857" y="55" width="1" height="6" fill="#e60000"/>
<rect x="855" y="51" width="5" height="4" fill="#e60000"/>
<rect x="864" y="44" width="1" height="10" fill="#e60000"/>
<rect x="864" y="59" width="1" height="7" fill="#e60000"/>
<rect x="862" y="54" width="5" height="5" fill="#e60000"/>
<rect x="872" y="56" width="1" height="3" fill="#e60000"/>
<rect x="872" y="60" width="1" height="10" fill="#e60000"/>
<rect x="870" y="59" width="5" height="1" fill="#e60000"/>
<rect x="879" y="53" width="1" height="3" fill="#2a8652"/>
<rect x="879" y="61" width="1" height="7" fill="#2a8652"/>
<rect x="877" y="56" width="5" height="5" fill="#1f8149"/>
<rect x="878" y="57" width="3" height="3" fill="#2a8652"/>
<rect x="887" y="55" width="1" height="1" fill="#e60000"/>
<rect x="887" y="77" width="1" height="6" fill="#e60000"/>
<rect x="885" y="56" width="5" height="21" fill="#e60000"/>
<rect x="894" y="75" width="1" height="1" fill="#e60000"/>
<rect x="892" y="76" width="5" height="18" fill="#e60000"/>
<rect x="902" y="77" width="1" height="3" fill="#2a8652"/>
<rect x="902" y="94" width="1" height="2" fill="#2a8652"/>
<rect x="900" y="80" width="5" height="14" fill="#1f8149"/>
<rect x="901" y="81" width="3" height="12" fill="#2a8652"/>
<rect x="909" y="74" width="1" height="4" fill="#e60000"/>
<rect x="909" y="88" width="1" height="2" fill="#e60000"/>
<rect x="907" y="78" width="5" height="10" fill="#e60000"/>
<rect x="917" y="79" width="1" height="8" fill="#e60000"/>
<rect x="917" y="90" width="1" height="8" fill="#e60000"/>
<rect x="915" y="87" width="5" height="3" fill="#e60000"/>
<rect x="924" y="73" width="1" height="2" fill="#2a8652"/>
<rect x="924" y="90" width="1" height="1" fill="#2a8652"/>
<rect x="922" y="75" width="5" height="15" fill="#1f8149"/>
<rect x="923" y="76" width="3" height="13" fill="#2a8652"/>
<rect x="932" y="72" width="1" height="3" fill="#e60000"/>
<rect x="932" y="84" width="1" height="2" fill="#e60000"/>
<rect x="930" y="75" width="5" height="9" fill="#e60000"/>
<rect x="939" y="75" width="1" height="8" fill="#e60000"/>
<rect x="939" y="84" width="1" height="13" fill="#e60000"/>
<rect x="937" y="83" width="5" height="1" fill="#e60000"/>
<rect x="947" y="79" width="1" height="4" fill="#e60000"/>
<rect x="947" y="102" width="1" height="10" fill="#e60000"/>
<rect x="945" y="83" width="5" height="19" fill="#e60000"/>
<rect x="954" y="82" width="1" height="7" fill="#2a8652"/>
<rect x="952" y="89" width="5" height="13" fill="#1f8149"/>
<rect x="953" y="90" width="3" height="11" fill="#2a8652"/>
<rect x="962" y="85" width="1" height="4" fill="#e60000"/>
<rect x="962" y="92" width="1" height="4" fill="#e60000"/>
<rect x="960" y="89" width="5" height="3" fill="#e60000"/>
<rect x="969" y="90" width="1" height="1" fill="#e60000"/>
<rect x="969" y="106" width="1" height="5" fill="#e60000"/>
<rect x="967" y="91" width="5" height="15" fill="#e60000"/>
<rect x="977" y="93" width="1" height="1" fill="#2a8652"/>
<rect x="977" y="106" width="1" height="4" fill="#2a8652"/>
<rect x="975" y="94" width="5" height="12" fill="#1f8149"/>
<rect x="976" y="95" width="3" height="10" fill="#2a8652"/>
<rect x="984" y="84" width="1" height="9" fill="#e60000"/>
<rect x="984" y="100" width="1" height="8" fill="#e60000"/>
<rect x="982" y="93" width="5" height="7" fill="#e60000"/>
<rect x="992" y="88" width="1" height="11" fill="#e60000"/>
<rect x="990" y="99" width="5" height="7" fill="#e60000"/>
<rect x="999" y="103" width="1" height="2" fill="#e60000"/>
<rect x="999" y="127" width="1" height="6" fill="#e60000"/>
<rect x="997" y="105" width="5" height="22" fill="#e60000"/>
<rect x="1007" y="123" width="1" height="3" fill="#e60000"/>
<rect x="1007" y="142" width="1" height="3" fill="#e60000"/>
<rect x="1005" y="126" width="5" height="16" fill="#e60000"/>
<rect x="1014" y="129" width="1" height="12" fill="#e60000"/>
<rect x="1014" y="145" width="1" height="4" fill="#e60000"/>
<rect x="1012" y="141" width="5" height="4" fill="#e60000"/>
<rect x="1022" y="128" width="1" height="8" fill="#2a8652"/>
<rect x="1022" y="144" width="1" height="1" fill="#2a8652"/>
<rect x="1020" y="136" width="5" height="8" fill="#1f8149"/>
<rect x="1021" y="137" width="3" height="6" fill="#2a8652"/>
<rect x="1029" y="127" width="1" height="1" fill="#2a8652"/>
<rect x="1029" y="137" width="1" height="3" fill="#2a8652"/>
<rect x="1027" y="128" width="5" height="9" fill="#1f8149"/>
<rect x="1028" y="129" width="3" height="7" fill="#2a8652"/>
<rect x="1037" y="98" width="1" height="5" fill="#2a8652"/>
<rect x="1037" y="129" width="1" height="1" fill="#2a8652"/>
<rect x="1035" y="103" width="5" height="26" fill="#1f8149"/>
<rect x="1036" y="104" width="3" height="24" fill="#2a8652"/>
<rect x="1044" y="100" width="1" height="3" fill="#e60000"/>
<rect x="1042" y="103" width="5" height="23" fill="#e60000"/>
<rect x="1052" y="120" width="1" height="5" fill="#e60000"/>
<rect x="1052" y="132" width="1" height="3" fill="#e60000"/>
<rect x="1050" y="125" width="5" height="7" fill="#e60000"/>
<rect x="1059" y="130" width="1" height="1" fill="#e60000"/>
<rect x="1057" y="131" width="5" height="13" fill="#e60000"/>
<rect x="1067" y="132" width="1" height="3" fill="#2a8652"/>
<rect x="1067" y="144" width="1" height="1" fill="#2a8652"/>
<rect x="1065" y="135" width="5" height="9" fill="#1f8149"/>
<rect x="1066" y="136" width="3" height="7" fill="#2a8652"/>
<rect x="1074" y="131" width="1" height="4" fill="#e60000"/>
<rect x="1074" y="143" width="1" height="2" fill="#e60000"/>
<rect x="1072" y="135" width="5" height="8" fill="#e60000"/>
<rect x="1082" y="141" width="1" height="1" fill="#e60000"/>
<rect x="1082" y="167" width="1" height="2" fill="#e60000"/>
<rect x="1080" y="142" width="5" height="25" fill="#e60000"/>
<rect x="1089" y="152" width="1" height="14" fill="#e60000"/>
<rect x="1089" y="174" width="1" height="1" fill="#e60000"/>
<rect x="1087" y="166" width="5" height="8" fill="#e60000"/>
<rect x="1097" y="163" width="1" height="2" fill="#2a8652"/>
<rect x="1097" y="172" width="1" height="5" fill="#2a8652"/>
<rect x="1095" y="165" width="5" height="7" fill="#1f8149"/>
<rect x="1096" y="166" width="3" height="5" fill="#2a8652"/>
<rect x="1104" y="157" width="1" height="8" fill="#e60000"/>
<rect x="1104" y="176" width="1" height="4" fill="#e60000"/>
<rect x="1102" y="165" width="5" height="11" fill="#e60000"/>
<rect x="1112" y="163" width="1" height="11" fill="#2a8652"/>
<rect x="1112" y="176" width="1" height="4" fill="#2a8652"/>
<rect x="1110" y="174" width="5" height="2" fill="#1f8149"/>
<rect x="1119" y="159" width="1" height="6" fill="#2a8652"/>
<rect x="1119" y="175" width="1" height="3" fill="#2a8652"/>
<rect x="1117" y="165" width="5" height="10" fill="#1f8149"/>
<rect x="1118" y="166" width="3" height="8" fill="#2a8652"/>
<rect x="1127" y="148" width="1" height="7" fill="#2a8652"/>
<rect x="1127" y="166" width="1" height="7" fill="#2a8652"/>
<rect x="1125" y="155" width="5" height="11" fill="#1f8149"/>
<rect x="1126" y="156" width="3" height="9" fill="#2a8652"/>
<rect x="1134" y="144" width="1" height="9" fill="#e60000"/>
<rect x="1134" y="170" width="1" height="3" fill="#e60000"/>
<rect x="1132" y="153" width="5" height="17" fill="#e60000"/>
<rect x="1142" y="166" width="1" height="3" fill="#e60000"/>
<rect x="1142" y="174" width="1" height="12" fill="#e60000"/>
<rect x="1140" y="169" width="5" height="5" fill="#e60000"/>
<rect x="1149" y="159" width="1" height="14" fill="#e60000"/>
<rect x="1149" y="177" width="1" height="5" fill="#e60000"/>
<rect x="1147" y="173" width="5" height="4" fill="#e60000"/>
<rect x="1157" y="170" width="1" height="6" fill="#e60000"/>
<rect x="1157" y="191" width="1" height="6" fill="#e60000"/>
<rect x="1155" y="176" width="5" height="15" fill="#e60000"/>
<rect x="1164" y="185" width="1" height="3" fill="#2a8652"/>
<rect x="1164" y="191" width="1" height="11" fill="#2a8652"/>
<rect x="1162" y="188" width="5" height="3" fill="#1f8149"/>
<rect x="1163" y="189" width="3" height="1" fill="#2a8652"/>
<rect x="1172" y="198" width="1" height="8" fill="#e60000"/>
<rect x="1170" y="187" width="5" height="11" fill="#e60000"/>
<rect x="1179" y="186" width="1" height="5" fill="#2a8652"/>
<rect x="1179" y="198" width="1" height="9" fill="#2a8652"/>
<rect x="1177" y="191" width="5" height="7" fill="#1f8149"/>
<rect x="1178" y="192" width="3" height="5" fill="#2a8652"/>
<rect x="1187" y="172" width="1" height="12" fill="#2a8652"/>
<rect x="1185" y="184" width="5" height="8" fill="#1f8149"/>
<rect x="1186" y="185" width="3" height="6" fill="#2a8652"/>
<rect x="1194" y="183" width="1" height="1" fill="#e60000"/>
<rect x="1194" y="191" width="1" height="4" fill="#e60000"/>
<rect x="1192" y="184" width="5" height="7" fill="#e60000"/>
<rect x="1202" y="174" width="1" height="5" fill="#2a8652"/>
<rect x="1200" y="179" width="5" height="12" fill="#1f8149"/>
<rect x="1201" y="180" width="3" height="10" fill="#2a8652"/>
<rect x="1209" y="171" width="1" height="1" fill="#2a8652"/>
<rect x="1209" y="180" width="1" height="4" fill="#2a8652"/>
<rect x="1207" y="172" width="5" height="8" fill="#1f8149"/>
<rect x="1208" y="173" width="3" height="6" fill="#2a8652"/>
<rect x="1217" y="162" width="1" height="9" fill="#2a8652"/>
<rect x="1217" y="172" width="1" height="1" fill="#2a8652"/>
<rect x="1215" y="171" width="5" height="1" fill="#1f8149"/>
<rect x="1224" y="159" width="1" height="12" fill="#e60000"/>
<rect x="1222" y="171" width="5" height="9" fill="#e60000"/>
<rect x="1232" y="175" width="1" height="1" fill="#2a8652"/>
<rect x="1232" y="178" width="1" height="7" fill="#2a8652"/>
<rect x="1230" y="176" width="5" height="2" fill="#1f8149"/>
<rect x="1239" y="166" width="1" height="5" fill="#2a8652"/>
<rect x="1239" y="177" width="1" height="3" fill="#2a8652"/>
<rect x="1237" y="171" width="5" height="6" fill="#1f8149"/>
<rect x="1238" y="172" width="3" height="4" fill="#2a8652"/>
<rect x="1247" y="151" width="1" height="1" fill="#2a8652"/>
<rect x="1247" y="171" width="1" height="1" fill="#2a8652"/>
<rect x="1245" y="152" width="5" height="19" fill="#1f8149"/>
<rect x="1246" y="153" width="3" height="17" fill="#2a8652"/>
<rect x="1254" y="149" width="1" height="3" fill="#e60000"/>
<rect x="1254" y="162" width="1" height="5" fill="#e60000"/>
<rect x="1252" y="152" width="5" height="10" fill="#e60000"/>
<rect x="1262" y="151" width="1" height="2" fill="#2a8652"/>
<rect x="1260" y="153" width="5" height="11" fill="#1f8149"/>
<rect x="1261" y="154" width="3" height="9" fill="#2a8652"/>
<rect x="1269" y="146" width="1" height="4" fill="#2a8652"/>
<rect x="1269" y="155" width="1" height="6" fill="#2a8652"/>
<rect x="1267" y="150" width="5" height="5" fill="#1f8149"/>
<rect x="1268" y="151" width="3" height="3" fill="#2a8652"/>
<rect x="1277" y="145" width="1" height="2" fill="#e60000"/>
<rect x="1277" y="164" width="1" height="1" fill="#e60000"/>
<rect x="1275" y="147" width="5" height="17" fill="#e60000"/>
<rect x="1284" y="158" width="1" height="4" fill="#2a8652"/>
<rect x="1284" y="163" width="1" height="15" fill="#2a8652"/>
<rect x="1282" y="162" width="5" height="1" fill="#1f8149"/>
<rect x="1292" y="159" width="1" height="3" fill="#e60000"/>
<rect x="1292" y="168" width="1" height="7" fill="#e60000"/>
<rect x="1290" y="162" width="5" height="6" fill="#e60000"/>
<rect x="1299" y="155" width="1" height="11" fill="#e60000"/>
<rect x="1299" y="172" width="1" height="1" fill="#e60000"/>
<rect x="1297" y="166" width="5" height="6" fill="#e60000"/>
<rect x="1307" y="170" width="1" height="1" fill="#e60000"/>
<rect x="1307" y="214" width="1" height="11" fill="#e60000"/>
<rect x="1305" y="171" width="5" height="43" fill="#e60000"/>
<rect x="1314" y="195" width="1" height="6" fill="#2a8652"/>
<rect x="1314" y="216" width="1" height="17" fill="#2a8652"/>
<rect x="1312" y="201" width="5" height="15" fill="#1f8149"/>
<rect x="1313" y="202" width="3" height="13" fill="#2a8652"/>
<rect x="1322" y="186" width="1" height="4" fill="#2a8652"/>
<rect x="1322" y="202" width="1" height="28" fill="#2a8652"/>
<rect x="1320" y="190" width="5" height="12" fill="#1f8149"/>
<rect x="1321" y="191" width="3" height="10" fill="#2a8652"/>
<rect x="1329" y="186" width="1" height="4" fill="#e60000"/>
<rect x="1329" y="211" width="1" height="4" fill="#e60000"/>
<rect x="1327" y="190" width="5" height="21" fill="#e60000"/>
<rect x="1337" y="184" width="1" height="5" fill="#2a8652"/>
<rect x="1337" y="212" width="1" height="29" fill="#2a8652"/>
<rect x="1335" y="189" width="5" height="23" fill="#1f8149"/>
<rect x="1336" y="190" width="3" height="21" fill="#2a8652"/>
<rect x="1344" y="189" width="1" height="2" fill="#e60000"/>
<rect x="1344" y="236" width="1" height="4" fill="#e60000"/>
<rect x="1342" y="191" width="5" height="45" fill="#e60000"/>
<rect x="1352" y="232" width="1" height="3" fill="#e60000"/>
<rect x="1352" y="247" width="1" height="18" fill="#e60000"/>
<rect x="1350" y="235" width="5" height="12" fill="#e60000"/>
<rect x="1359" y="239" width="1" height="5" fill="#e60000"/>
<rect x="1359" y="253" width="1" height="10" fill="#e60000"/>
<rect x="1357" y="244" width="5" height="9" fill="#e60000"/>
<rect x="1367" y="246" width="1" height="5" fill="#2a8652"/>
<rect x="1367" y="255" width="1" height="4" fill="#2a8652"/>
<rect x="1365" y="251" width="5" height="4" fill="#1f8149"/>
<rect x="1366" y="252" width="3" height="2" fill="#2a8652"/>
<rect x="1374" y="269" width="1" height="3" fill="#e60000"/>
<rect x="1372" y="250" width="5" height="19" fill="#e60000"/>
<rect x="1382" y="253" width="1" height="8" fill="#2a8652"/>
<rect x="1382" y="269" width="1" height="3" fill="#2a8652"/>
<rect x="1380" y="261" width="5" height="8" fill="#1f8149"/>
<rect x="1381" y="262" width="3" height="6" fill="#2a8652"/>
<rect x="1389" y="260" width="1" height="1" fill="#e60000"/>
<rect x="1387" y="261" width="5" height="5" fill="#e60000"/>
<rect x="1397" y="283" width="1" height="3" fill="#e60000"/>
<rect x="1395" y="264" width="5" height="19" fill="#e60000"/>
<rect x="1404" y="271" width="1" height="2" fill="#2a8652"/>
<rect x="1404" y="281" width="1" height="14" fill="#2a8652"/>
<rect x="1402" y="273" width="5" height="8" fill="#1f8149"/>
<rect x="1403" y="274" width="3" height="6" fill="#2a8652"/>
<rect x="1412" y="246" width="1" height="2" fill="#2a8652"/>
<rect x="1412" y="271" width="1" height="2" fill="#2a8652"/>
<rect x="1410" y="248" width="5" height="23" fill="#1f8149"/>
<rect x="1411" y="249" width="3" height="21" fill="#2a8652"/>
<rect x="1419" y="247" width="1" height="1" fill="#e60000"/>
<rect x="1419" y="260" width="1" height="3" fill="#e60000"/>
<rect x="1417" y="248" width="5" height="12" fill="#e60000"/>
<rect x="1427" y="240" width="1" height="5" fill="#2a8652"/>
<rect x="1427" y="260" width="1" height="1" fill="#2a8652"/>
<rect x="1425" y="245" width="5" height="15" fill="#1f8149"/>
<rect x="1426" y="246" width="3" height="13" fill="#2a8652"/>
<rect x="1434" y="242" width="1" height="3" fill="#e60000"/>
<rect x="1432" y="245" width="5" height="23" fill="#e60000"/>
<rect x="1442" y="257" width="1" height="5" fill="#2a8652"/>
<rect x="1440" y="262" width="5" height="6" fill="#1f8149"/>
<rect x="1441" y="263" width="3" height="4" fill="#2a8652"/>
<rect x="1449" y="251" width="1" height="2" fill="#2a8652"/>
<rect x="1449" y="263" width="1" height="2" fill="#2a8652"/>
<rect x="1447" y="253" width="5" height="10" fill="#1f8149"/>
<rect x="1448" y="254" width="3" height="8" fill="#2a8652"/>
<rect x="1457" y="218" width="1" height="4" fill="#2a8652"/>
<rect x="1457" y="254" width="1" height="1" fill="#2a8652"/>
<rect x="1455" y="222" width="5" height="32" fill="#1f8149"/>
<rect x="1456" y="223" width="3" height="30" fill="#2a8652"/>
<rect x="1464" y="215" width="1" height="7" fill="#e60000"/>
<rect x="1464" y="229" width="1" height="15" fill="#e60000"/>
<rect x="1462" y="222" width="5" height="7" fill="#e60000"/>
<rect x="1472" y="227" width="1" height="1" fill="#e60000"/>
<rect x="1472" y="245" width="1" height="1" fill="#e60000"/>
<rect x="1470" y="228" width="5" height="17" fill="#e60000"/>
<rect x="1479" y="237" width="1" height="7" fill="#e60000"/>
<rect x="1479" y="261" width="1" height="1" fill="#e60000"/>
<rect x="1477" y="244" width="5" height="17" fill="#e60000"/>
</g>
<g shape-rendering="crispEdges">
<rect x="14" y="389" width="6" height="33" fill="#ff5252"/>
<rect x="21" y="389" width="7" height="27" fill="#fccbcd"/>
<rect x="29" y="389" width="6" height="21" fill="#fccbcd"/>
<rect x="36" y="389" width="7" height="17" fill="#fccbcd"/>
<rect x="44" y="389" width="6" height="11" fill="#fccbcd"/>
<rect x="51" y="389" width="7" height="8" fill="#fccbcd"/>
<rect x="59" y="389" width="6" height="4" fill="#fccbcd"/>
<rect x="66" y="386" width="7" height="4" fill="#22ab94"/>
<rect x="74" y="384" width="6" height="6" fill="#22ab94"/>
<rect x="81" y="384" width="7" height="6" fill="#ace5dc"/>
<rect x="89" y="386" width="6" height="4" fill="#ace5dc"/>
<rect x="96" y="387" width="7" height="3" fill="#ace5dc"/>
<rect x="104" y="386" width="6" height="4" fill="#22ab94"/>
<rect x="111" y="387" width="7" height="3" fill="#ace5dc"/>
<rect x="119" y="388" width="6" height="2" fill="#ace5dc"/>
<rect x="126" y="388" width="7" height="2" fill="#ace5dc"/>
<rect x="134" y="387" width="6" height="3" fill="#22ab94"/>
<rect x="141" y="386" width="7" height="4" fill="#22ab94"/>
<rect x="149" y="382" width="6" height="8" fill="#22ab94"/>
<rect x="156" y="379" width="7" height="11" fill="#22ab94"/>
<rect x="164" y="379" width="6" height="11" fill="#ace5dc"/>
<rect x="171" y="382" width="7" height="8" fill="#ace5dc"/>
<rect x="179" y="385" width="6" height="5" fill="#ace5dc"/>
<rect x="186" y="388" width="7" height="2" fill="#ace5dc"/>
<rect x="194" y="388" width="6" height="2" fill="#ace5dc"/>
<rect x="201" y="389" width="7" height="1" fill="#ace5dc"/>
<rect x="209" y="389" width="6" height="1" fill="#ace5dc"/>
<rect x="216" y="389" width="7" height="1" fill="#ace5dc"/>
<rect x="224" y="389" width="6" height="2" fill="#ff5252"/>
<rect x="231" y="389" width="7" height="3" fill="#ff5252"/>
<rect x="239" y="389" width="6" height="1" fill="#22ab94"/>
<rect x="246" y="387" width="7" height="3" fill="#22ab94"/>
<rect x="254" y="385" width="6" height="5" fill="#22ab94"/>
<rect x="261" y="382" width="7" height="8" fill="#22ab94"/>
<rect x="269" y="380" width="6" height="10" fill="#22ab94"/>
<rect x="276" y="380" width="7" height="10" fill="#22ab94"/>
<rect x="284" y="377" width="6" height="13" fill="#22ab94"/>
<rect x="291" y="376" width="7" height="14" fill="#22ab94"/>
<rect x="299" y="380" width="6" height="10" fill="#ace5dc"/>
<rect x="306" y="380" width="7" height="10" fill="#ace5dc"/>
<rect x="314" y="381" width="6" height="9" fill="#ace5dc"/>
<rect x="321" y="377" width="7" height="13" fill="#22ab94"/>
<rect x="329" y="374" width="6" height="16" fill="#22ab94"/>
<rect x="336" y="370" width="7" height="20" fill="#22ab94"/>
<rect x="344" y="370" width="6" height="20" fill="#22ab94"/>
<rect x="351" y="370" width="7" height="20" fill="#ace5dc"/>
<rect x="359" y="370" width="6" height="20" fill="#22ab94"/>
<rect x="366" y="372" width="7" height="18" fill="#ace5dc"/>
<rect x="374" y="373" width="6" height="17" fill="#ace5dc"/>
<rect x="381" y="374" width="7" height="16" fill="#ace5dc"/>
<rect x="389" y="377" width="6" height="13" fill="#ace5dc"/>
<rect x="396" y="378" width="7" height="12" fill="#ace5dc"/>
<rect x="404" y="379" width="6" height="11" fill="#ace5dc"/>
<rect x="411" y="381" width="7" height="9" fill="#ace5dc"/>
<rect x="419" y="382" width="6" height="8" fill="#ace5dc"/>
<rect x="426" y="382" width="7" height="8" fill="#ace5dc"/>
<rect x="434" y="380" width="6" height="10" fill="#22ab94"/>
<rect x="441" y="382" width="7" height="8" fill="#ace5dc"/>
<rect x="449" y="382" width="6" height="8" fill="#ace5dc"/>
<rect x="456" y="382" width="7" height="8" fill="#22ab94"/>
<rect x="464" y="382" width="6" height="8" fill="#ace5dc"/>
<rect x="471" y="383" width="7" height="7" fill="#ace5dc"/>
<rect x="479" y="387" width="6" height="3" fill="#ace5dc"/>
<rect x="486" y="388" width="7" height="2" fill="#ace5dc"/>
<rect x="494" y="389" width="6" height="2" fill="#ff5252"/>
<rect x="501" y="389" width="7" height="4" fill="#ff5252"/>
<rect x="509" y="389" width="6" height="2" fill="#fccbcd"/>
<rect x="516" y="389" width="7" height="3" fill="#ff5252"/>
<rect x="524" y="389" width="6" height="5" fill="#ff5252"/>
<rect x="531" y="389" width="7" height="4" fill="#fccbcd"/>
<rect x="539" y="389" width="6" height="2" fill="#fccbcd"/>
<rect x="546" y="389" width="7" height="1" fill="#22ab94"/>
<rect x="554" y="387" width="6" height="3" fill="#22ab94"/>
<rect x="561" y="389" width="7" height="1" fill="#ace5dc"/>
<rect x="569" y="389" width="6" height="1" fill="#ff5252"/>
<rect x="576" y="389" width="7" height="2" fill="#ff5252"/>
<rect x="584" y="389" width="6" height="2" fill="#fccbcd"/>
<rect x="591" y="389" width="7" height="4" fill="#ff5252"/>
<rect x="599" y="389" width="6" height="4" fill="#ff5252"/>
<rect x="606" y="389" width="7" height="6" fill="#ff5252"/>
<rect x="614" y="389" width="6" height="9" fill="#ff5252"/>
<rect x="621" y="389" width="7" height="13" fill="#ff5252"/>
<rect x="629" y="389" width="6" height="15" fill="#ff5252"/>
<rect x="636" y="389" width="7" height="19" fill="#ff5252"/>
<rect x="644" y="389" width="6" height="20" fill="#ff5252"/>
<rect x="651" y="389" width="7" height="21" fill="#ff5252"/>
<rect x="659" y="389" width="6" height="18" fill="#fccbcd"/>
<rect x="666" y="389" width="7" height="16" fill="#fccbcd"/>
<rect x="674" y="389" width="6" height="15" fill="#fccbcd"/>
<rect x="681" y="389" width="7" height="11" fill="#fccbcd"/>
<rect x="689" y="389" width="6" height="7" fill="#fccbcd"/>
<rect x="696" y="389" width="7" height="3" fill="#fccbcd"/>
<rect x="704" y="389" width="6" height="1" fill="#22ab94"/>
<rect x="711" y="386" width="7" height="4" fill="#22ab94"/>
<rect x="719" y="384" width="6" height="6" fill="#22ab94"/>
<rect x="726" y="383" width="7" height="7" fill="#22ab94"/>
<rect x="734" y="382" width="6" height="8" fill="#22ab94"/>
<rect x="741" y="377" width="7" height="13" fill="#22ab94"/>
<rect x="749" y="376" width="6" height="14" fill="#22ab94"/>
<rect x="756" y="375" width="7" height="15" fill="#22ab94"/>
<rect x="764" y="375" width="6" height="15" fill="#ace5dc"/>
<rect x="771" y="377" width="7" height="13" fill="#ace5dc"/>
<rect x="779" y="377" width="6" height="13" fill="#ace5dc"/>
<rect x="786" y="378" width="7" height="12" fill="#ace5dc"/>
<rect x="794" y="381" width="6" height="9" fill="#ace5dc"/>
<rect x="801" y="383" width="7" height="7" fill="#ace5dc"/>
<rect x="809" y="385" width="6" height="5" fill="#ace5dc"/>
<rect x="816" y="386" width="7" height="4" fill="#ace5dc"/>
<rect x="824" y="388" width="6" height="2" fill="#ace5dc"/>
<rect x="831" y="389" width="7" height="1" fill="#ace5dc"/>
<rect x="839" y="389" width="6" height="1" fill="#ace5dc"/>
<rect x="846" y="389" width="7" height="1" fill="#22ab94"/>
<rect x="854" y="389" width="6" height="1" fill="#ff5252"/>
<rect x="861" y="389" width="7" height="2" fill="#ff5252"/>
<rect x="869" y="389" width="6" height="3" fill="#ff5252"/>
<rect x="876" y="389" width="7" height="3" fill="#ff5252"/>
<rect x="884" y="389" width="6" height="6" fill="#ff5252"/>
<rect x="891" y="389" width="7" height="10" fill="#ff5252"/>
<rect x="899" y="389" width="6" height="10" fill="#ff5252"/>
<rect x="906" y="389" width="7" height="11" fill="#ff5252"/>
<rect x="914" y="389" width="6" height="12" fill="#ff5252"/>
<rect x="921" y="389" width="7" height="10" fill="#fccbcd"/>
<rect x="929" y="389" width="6" height="9" fill="#fccbcd"/>
<rect x="936" y="389" width="7" height="9" fill="#fccbcd"/>
<rect x="944" y="389" width="6" height="10" fill="#ff5252"/>
<rect x="951" y="389" width="7" height="9" fill="#fccbcd"/>
<rect x="959" y="389" width="6" height="8" fill="#fccbcd"/>
<rect x="966" y="389" width="7" height="9" fill="#ff5252"/>
<rect x="974" y="389" width="6" height="8" fill="#fccbcd"/>
<rect x="981" y="389" width="7" height="7" fill="#fccbcd"/>
<rect x="989" y="389" width="6" height="8" fill="#ff5252"/>
<rect x="996" y="389" width="7" height="10" fill="#ff5252"/>
<rect x="1004" y="389" width="6" height="12" fill="#ff5252"/>
<rect x="1011" y="389" width="7" height="14" fill="#ff5252"/>
<rect x="1019" y="389" width="6" height="13" fill="#fccbcd"/>
<rect x="1026" y="389" width="7" height="10" fill="#fccbcd"/>
<rect x="1034" y="389" width="6" height="5" fill="#fccbcd"/>
<rect x="1041" y="389" width="7" height="4" fill="#fccbcd"/>
<rect x="1049" y="389" width="6" height="4" fill="#fccbcd"/>
<rect x="1056" y="389" width="7" height="5" fill="#ff5252"/>
<rect x="1064" y="389" width="6" height="4" fill="#fccbcd"/>
<rect x="1071" y="389" width="7" height="4" fill="#ff5252"/>
<rect x="1079" y="389" width="6" height="7" fill="#ff5252"/>
<rect x="1086" y="389" width="7" height="8" fill="#ff5252"/>
<rect x="1094" y="389" width="6" height="8" fill="#fccbcd"/>
<rect x="1101" y="389" width="7" height="8" fill="#ff5252"/>
<rect x="1109" y="389" width="6" height="8" fill="#fccbcd"/>
<rect x="1116" y="389" width="7" height="5" fill="#fccbcd"/>
<rect x="1124" y="389" width="6" height="2" fill="#fccbcd"/>
<rect x="1131" y="389" width="7" height="2" fill="#fccbcd"/>
<rect x="1139" y="389" width="6" height="2" fill="#fccbcd"/>
<rect x="1146" y="389" width="7" height="2" fill="#fccbcd"/>
<rect x="1154" y="389" width="6" height="3" fill="#ff5252"/>
<rect x="1161" y="389" width="7" height="3" fill="#fccbcd"/>
<rect x="1169" y="389" width="6" height="3" fill="#ff5252"/>
<rect x="1176" y="389" width="7" height="3" fill="#fccbcd"/>
<rect x="1184" y="389" width="6" height="1" fill="#fccbcd"/>
<rect x="1191" y="389" width="7" height="1" fill="#22ab94"/>
<rect x="1199" y="387" width="6" height="3" fill="#22ab94"/>
<rect x="1206" y="385" width="7" height="5" fill="#22ab94"/>
<rect x="1214" y="383" width="6" height="7" fill="#22ab94"/>
<rect x="1221" y="383" width="7" height="7" fill="#22ab94"/>
<rect x="1229" y="383" width="6" height="7" fill="#22ab94"/>
<rect x="1236" y="382" width="7" height="8" fill="#22ab94"/>
<rect x="1244" y="380" width="6" height="10" fill="#22ab94"/>
<rect x="1251" y="380" width="7" height="10" fill="#22ab94"/>
<rect x="1259" y="379" width="6" height="11" fill="#22ab94"/>
<rect x="1266" y="378" width="7" height="12" fill="#22ab94"/>
<rect x="1274" y="380" width="6" height="10" fill="#ace5dc"/>
<rect x="1281" y="382" width="7" height="8" fill="#ace5dc"/>
<rect x="1289" y="383" width="6" height="7" fill="#ace5dc"/>
<rect x="1296" y="385" width="7" height="5" fill="#ace5dc"/>
<rect x="1304" y="389" width="6" height="2" fill="#ff5252"/>
<rect x="1311" y="389" width="7" height="5" fill="#ff5252"/>
<rect x="1319" y="389" width="6" height="4" fill="#fccbcd"/>
<rect x="1326" y="389" width="7" height="6" fill="#ff5252"/>
<rect x="1334" y="389" width="6" height="5" fill="#fccbcd"/>
<rect x="1341" y="389" width="7" height="9" fill="#ff5252"/>
<rect x="1349" y="389" width="6" height="12" fill="#ff5252"/>
<rect x="1356" y="389" width="7" height="14" fill="#ff5252"/>
<rect x="1364" y="389" width="6" height="14" fill="#ff5252"/>
<rect x="1371" y="389" width="7" height="15" fill="#ff5252"/>
<rect x="1379" y="389" width="6" height="14" fill="#fccbcd"/>
<rect x="1386" y="389" width="7" height="13" fill="#fccbcd"/>
<rect x="1394" y="389" width="6" height="13" fill="#ff5252"/>
<rect x="1401" y="389" width="7" height="11" fill="#fccbcd"/>
<rect x="1409" y="389" width="6" height="6" fill="#fccbcd"/>
<rect x="1416" y="389" width="7" height="4" fill="#fccbcd"/>
<rect x="1424" y="389" width="6" height="1" fill="#22ab94"/>
<rect x="1431" y="389" width="7" height="1" fill="#22ab94"/>
<rect x="1439" y="388" width="6" height="2" fill="#22ab94"/>
<rect x="1446" y="386" width="7" height="4" fill="#22ab94"/>
<rect x="1454" y="381" width="6" height="9" fill="#22ab94"/>
<rect x="1461" y="378" width="7" height="12" fill="#22ab94"/>
<rect x="1469" y="379" width="6" height="11" fill="#ace5dc"/>
<rect x="1476" y="382" width="7" height="8" fill="#ace5dc"/>
</g>
<g clip-path="url(#cp2)">
<polyline points="9.5,459.3 17.5,467.5 24.5,468.6 32.5,467.5 39.5,467.1 47.5,464.5 54.5,462.6 62.5,459.2 69.5,451.9 77.5,448.7 84.5,447.6 92.5,448.6 99.5,448.9 107.5,446.2 114.5,447.3 122.5,447.1 129.5,447.5 137.5,445.8 144.5,443.1 152.5,438.1 159.5,432.1 167.5,429.8 174.5,431.0 182.5,432.0 189.5,434.5 197.5,434.1 204.5,434.8 212.5,435.0 219.5,435.6 227.5,437.5 234.5,438.9 242.5,435.7 249.5,433.2 257.5,430.1 264.5,424.8 272.5,420.8 279.5,418.1 287.5,412.6 294.5,407.9 302.5,409.0 309.5,406.9 317.5,405.1 324.5,398.0 332.5,391.5 339.5,383.0 347.5,377.3 354.5,372.9 362.5,367.6 369.5,365.2 377.5,362.4 384.5,359.4 392.5,358.5 399.5,357.2 407.5,355.4 414.5,355.7 422.5,353.9 429.5,352.3 437.5,348.4 444.5,347.6 452.5,346.5 459.5,344.2 467.5,342.7 474.5,342.0 482.5,344.9 489.5,345.6 497.5,348.4 504.5,352.2 512.5,349.7 519.5,351.7 527.5,354.2 534.5,354.3 542.5,353.1 549.5,350.6 557.5,347.7 564.5,349.9 572.5,351.4 579.5,352.9 587.5,352.8 594.5,355.2 602.5,356.6 609.5,359.7 617.5,364.5 624.5,372.3 632.5,377.8 639.5,385.9 647.5,392.3 654.5,397.5 662.5,399.4 669.5,401.7 677.5,403.6 684.5,402.5 692.5,400.0 699.5,396.8 707.5,393.9 714.5,389.7 722.5,385.6 729.5,383.7 737.5,380.0 744.5,372.1 752.5,367.9 759.5,363.4 767.5,360.0 774.5,357.9 782.5,354.9 789.5,353.0 797.5,354.1 804.5,354.3 812.5,355.2 819.5,355.6 827.5,356.9 834.5,357.6 842.5,358.0 849.5,357.7 857.5,358.4 864.5,359.9 872.5,361.6 879.5,362.7 887.5,366.9 894.5,372.9 902.5,375.8 909.5,379.3 917.5,382.6 924.5,383.0 932.5,384.7 939.5,386.1 947.5,389.8 954.5,390.9 962.5,392.1 969.5,395.1 977.5,395.7 984.5,396.9 992.5,398.6 999.5,403.0 1007.5,408.4 1014.5,412.9 1022.5,414.9 1029.5,414.9 1037.5,411.1 1044.5,411.1 1052.5,411.8 1059.5,413.8 1067.5,413.8 1074.5,414.7 1082.5,418.6 1089.5,422.4 1097.5,423.7 1104.5,425.9 1112.5,427.0 1119.5,426.1 1127.5,423.5 1134.5,423.2 1142.5,423.2 1149.5,423.3 1157.5,425.0 1164.5,425.5 1172.5,426.9 1179.5,426.6 1187.5,424.9 1194.5,424.2 1202.5,421.5 1209.5,418.0 1217.5,414.8 1224.5,413.2 1232.5,411.3 1239.5,408.7 1247.5,403.8 1254.5,401.1 1262.5,397.6 1269.5,394.4 1277.5,393.8 1284.5,393.0 1292.5,393.2 1299.5,393.9 1307.5,400.5 1314.5,403.8 1322.5,404.5 1329.5,408.0 1337.5,407.3 1344.5,413.4 1352.5,419.6 1359.5,425.0 1367.5,428.5 1374.5,433.4 1382.5,435.5 1389.5,437.4 1397.5,440.7 1404.5,441.5 1412.5,437.8 1419.5,436.1 1427.5,432.1 1434.5,431.7 1442.5,430.1 1449.5,427.1 1457.5,419.9 1464.5,414.7 1472.5,412.9 1479.5,413.3" fill="none" stroke="#2196f3" stroke-width="1.25" stroke-linejoin="round" stroke-linecap="butt"/>
<polyline points="9.5,427.5 17.5,435.5 24.5,442.1 32.5,447.2 39.5,451.2 47.5,453.9 54.5,455.6 62.5,456.3 69.5,455.4 77.5,454.1 84.5,452.8 92.5,452.0 99.5,451.3 107.5,450.3 114.5,449.7 122.5,449.2 129.5,448.9 137.5,448.3 144.5,447.2 152.5,445.4 159.5,442.7 167.5,440.1 174.5,438.3 182.5,437.0 189.5,436.5 197.5,436.0 204.5,435.8 212.5,435.6 219.5,435.6 227.5,436.0 234.5,436.6 242.5,436.4 249.5,435.8 257.5,434.6 264.5,432.7 272.5,430.3 279.5,427.9 287.5,424.8 294.5,421.4 302.5,418.9 309.5,416.5 317.5,414.2 324.5,411.0 332.5,407.1 339.5,402.3 347.5,397.3 354.5,392.4 362.5,387.4 369.5,383.0 377.5,378.9 384.5,375.0 392.5,371.7 399.5,368.8 407.5,366.1 414.5,364.0 422.5,362.0 429.5,360.1 437.5,357.7 444.5,355.7 452.5,353.9 459.5,351.9 467.5,350.1 474.5,348.5 482.5,347.7 489.5,347.3 497.5,347.5 504.5,348.5 512.5,348.7 519.5,349.3 527.5,350.3 534.5,351.1 542.5,351.5 549.5,351.3 557.5,350.6 564.5,350.4 572.5,350.6 579.5,351.1 587.5,351.4 594.5,352.2 602.5,353.1 609.5,354.4 617.5,356.4 624.5,359.6 632.5,363.2 639.5,367.8 647.5,372.7 654.5,377.6 662.5,382.0 669.5,385.9 677.5,389.5 684.5,392.1 692.5,393.7 699.5,394.3 707.5,394.2 714.5,393.3 722.5,391.8 729.5,390.2 737.5,388.1 744.5,384.9 752.5,381.5 759.5,377.9 767.5,374.3 774.5,371.0 782.5,367.8 789.5,364.8 797.5,362.7 804.5,361.0 812.5,359.9 819.5,359.0 827.5,358.6 834.5,358.4 842.5,358.3 849.5,358.2 857.5,358.2 864.5,358.6 872.5,359.2 879.5,359.9 887.5,361.3 894.5,363.6 902.5,366.0 909.5,368.7 917.5,371.5 924.5,373.8 932.5,375.9 939.5,378.0 947.5,380.3 954.5,382.5 962.5,384.4 969.5,386.5 977.5,388.4 984.5,390.1 992.5,391.8 999.5,394.0 1007.5,396.9 1014.5,400.1 1022.5,403.1 1029.5,405.4 1037.5,406.6 1044.5,407.5 1052.5,408.3 1059.5,409.4 1067.5,410.3 1074.5,411.2 1082.5,412.7 1089.5,414.6 1097.5,416.4 1104.5,418.3 1112.5,420.1 1119.5,421.3 1127.5,421.7 1134.5,422.0 1142.5,422.2 1149.5,422.4 1157.5,422.9 1164.5,423.5 1172.5,424.1 1179.5,424.6 1187.5,424.7 1194.5,424.6 1202.5,424.0 1209.5,422.8 1217.5,421.2 1224.5,419.6 1232.5,417.9 1239.5,416.1 1247.5,413.6 1254.5,411.1 1262.5,408.4 1269.5,405.6 1277.5,403.3 1284.5,401.2 1292.5,399.6 1299.5,398.5 1307.5,398.9 1314.5,399.9 1322.5,400.8 1329.5,402.2 1337.5,403.3 1344.5,405.3 1352.5,408.1 1359.5,411.5 1367.5,414.9 1374.5,418.6 1382.5,422.0 1389.5,425.1 1397.5,428.2 1404.5,430.8 1412.5,432.2 1419.5,433.0 1427.5,432.8 1434.5,432.6 1442.5,432.1 1449.5,431.1 1457.5,428.9 1464.5,426.0 1472.5,423.4 1479.5,421.4" fill="none" stroke="#ff6d00" stroke-width="1.25" stroke-linejoin="round" stroke-linecap="butt"/>
</g>
<g clip-path="url(#cp3)">
<polyline points="9.5,627.5 17.5,625.2 24.5,595.8 32.5,589.5 39.5,592.2 47.5,586.0 54.5,588.0 62.5,582.0 69.5,561.5 77.5,572.0 84.5,578.5 92.5,585.2 99.5,585.2 107.5,574.2 114.5,584.8 122.5,583.2 129.5,586.2 137.5,579.0 144.5,574.2 152.5,561.5 159.5,554.0 167.5,565.5 174.5,576.5 182.5,578.5 189.5,584.8 197.5,575.5 204.5,580.0 212.5,580.8 219.5,584.0 227.5,590.0 234.5,591.2 242.5,568.8 249.5,569.8 257.5,565.5 264.5,552.2 272.5,554.0 279.5,557.5 287.5,541.2 294.5,540.5 302.5,564.8 309.5,550.8 317.5,551.2 324.5,527.8 332.5,524.5 339.5,513.5 347.5,518.5 354.5,518.5 362.5,511.5 369.5,519.8 377.5,515.5 384.5,511.8 392.5,518.5 399.5,515.0 407.5,511.5 414.5,520.0 422.5,510.8 429.5,509.0 437.5,498.5 444.5,510.8 452.5,507.8 459.5,501.5 467.5,501.0 474.5,500.5 482.5,520.5 489.5,513.5 497.5,524.0 504.5,531.5 512.5,509.5 519.5,527.2 527.5,530.8 534.5,522.8 542.5,516.5 549.5,510.5 557.5,506.5 564.5,527.5 572.5,525.5 579.5,524.8 587.5,519.2 594.5,529.5 602.5,527.2 609.5,534.8 617.5,545.5 624.5,562.0 632.5,558.5 639.5,571.8 647.5,572.2 654.5,573.2 662.5,561.0 669.5,564.5 677.5,565.5 684.5,551.2 692.5,544.0 699.5,537.5 707.5,536.8 714.5,527.5 722.5,522.8 729.5,531.2 737.5,520.8 744.5,502.8 752.5,514.5 759.5,509.5 767.5,509.2 774.5,510.5 782.5,504.5 789.5,505.5 797.5,520.8 804.5,516.5 812.5,518.5 819.5,514.8 827.5,519.5 834.5,516.8 842.5,514.5 849.5,509.5 857.5,514.2 864.5,519.8 872.5,522.8 879.5,518.8 887.5,546.0 894.5,560.5 902.5,547.5 909.5,554.2 917.5,555.2 924.5,541.2 932.5,549.0 939.5,549.8 947.5,565.5 954.5,552.5 962.5,554.5 969.5,566.5 977.5,555.0 984.5,559.0 992.5,564.0 999.5,579.0 1007.5,588.0 1014.5,589.8 1022.5,579.5 1029.5,570.0 1037.5,546.5 1044.5,562.5 1052.5,566.2 1059.5,573.5 1067.5,565.8 1074.5,570.5 1082.5,583.5 1089.5,587.0 1097.5,579.0 1104.5,584.2 1112.5,583.2 1119.5,573.8 1127.5,563.2 1134.5,572.5 1142.5,575.2 1149.5,577.2 1157.5,585.2 1164.5,583.0 1172.5,588.5 1179.5,580.5 1187.5,572.5 1194.5,576.8 1202.5,564.0 1209.5,556.0 1217.5,555.2 1224.5,562.2 1232.5,561.0 1239.5,552.5 1247.5,533.5 1254.5,542.8 1262.5,535.8 1269.5,533.0 1277.5,547.2 1284.5,546.0 1292.5,551.0 1299.5,555.2 1307.5,586.2 1314.5,573.5 1322.5,562.5 1329.5,575.2 1337.5,557.2 1344.5,580.2 1352.5,585.0 1359.5,587.5 1367.5,585.2 1374.5,592.2 1382.5,585.5 1389.5,587.0 1397.5,594.8 1404.5,585.5 1412.5,564.8 1419.5,570.2 1427.5,560.2 1434.5,571.2 1442.5,568.0 1449.5,561.0 1457.5,541.0 1464.5,544.5 1472.5,554.5 1479.5,563.2" fill="none" stroke="#7e57c2" stroke-width="1.25" stroke-linejoin="round" stroke-linecap="butt"/>
</g>
<rect x="13" y="13" width="1630" height="661" fill="none" stroke="#e0e3eb" stroke-width="1"/>
<g shape-rendering="crispEdges">
<rect x="13" y="325" width="1630" height="1" fill="#e0e3eb"/>
<rect x="13" y="482" width="1630" height="1" fill="#e0e3eb"/>
</g>
<text x="1568.8" y="35.1" fill="#3d3d3d" font-size="15.6" text-anchor="start" textLength="44" lengthAdjust="spacingAndGlyphs">160.00</text>
<text x="1568.8" y="87.9" fill="#3d3d3d" font-size="15.6" text-anchor="start" textLength="44" lengthAdjust="spacingAndGlyphs">156.00</text>
<text x="1568.8" y="140.7" fill="#3d3d3d" font-size="15.6" text-anchor="start" textLength="44" lengthAdjust="spacingAndGlyphs">152.00</text>
<text x="1568.8" y="193.5" fill="#3d3d3d" font-size="15.6" text-anchor="start" textLength="44" lengthAdjust="spacingAndGlyphs">148.00</text>
<text x="1568.8" y="246.3" fill="#3d3d3d" font-size="15.6" text-anchor="start" textLength="44" lengthAdjust="spacingAndGlyphs">144.00</text>
<text x="1568.8" y="299.1" fill="#3d3d3d" font-size="15.6" text-anchor="start" textLength="44" lengthAdjust="spacingAndGlyphs">140.00</text>
<text x="1568.8" y="346.9" fill="#3d3d3d" font-size="15.6" text-anchor="start" textLength="29" lengthAdjust="spacingAndGlyphs">2.00</text>
<text x="1568.8" y="395.2" fill="#3d3d3d" font-size="15.6" text-anchor="start" textLength="29" lengthAdjust="spacingAndGlyphs">0.00</text>
<text x="1568.8" y="529.75" fill="#3d3d3d" font-size="15.6" text-anchor="start" textLength="36.5" lengthAdjust="spacingAndGlyphs">60.00</text>
<text x="1568.8" y="618.75" fill="#3d3d3d" font-size="15.6" text-anchor="start" textLength="36.5" lengthAdjust="spacingAndGlyphs">20.00</text>
<path d="M1558,134H1617Q1619,134 1619,136V153Q1619,155 1617,155H1558Z" fill="#2196f3"/>
<text x="1568.8" y="149.9" fill="#fff" font-size="15.2" text-anchor="start" textLength="42.6" lengthAdjust="spacingAndGlyphs">150.81</text>
<path d="M1558,155H1617Q1619,155 1619,157V174Q1619,176 1617,176H1558Z" fill="#26c6da"/>
<text x="1568.8" y="170.9" fill="#000" font-size="15.2" text-anchor="start" textLength="43" lengthAdjust="spacingAndGlyphs">149.72</text>
<path d="M1558,208H1617Q1619,208 1619,210V227Q1619,229 1617,229H1558Z" fill="#2196f3"/>
<text x="1568.8" y="223.9" fill="#fff" font-size="15.2" text-anchor="start" textLength="43.5" lengthAdjust="spacingAndGlyphs">143.44</text>
<path d="M1558,229H1617Q1619,229 1619,231V248Q1619,250 1617,250H1558Z" fill="#ff6d00"/>
<text x="1568.8" y="244.9" fill="#fff" font-size="15.2" text-anchor="start" textLength="43.5" lengthAdjust="spacingAndGlyphs">143.24</text>
<path d="M1558,250H1617Q1619,250 1619,252V269Q1619,271 1617,271H1558Z" fill="#e60000"/>
<text x="1568.8" y="265.9" fill="#fff" font-size="15.2" text-anchor="start" textLength="43.5" lengthAdjust="spacingAndGlyphs">142.49</text>
<path d="M1558,272H1635Q1637,272 1637,274V291Q1637,293 1635,293H1558Z" fill="#f7525f"/>
<text x="1568.8" y="287.9" fill="#fff" font-size="15.2" text-anchor="start" textLength="61" lengthAdjust="spacingAndGlyphs">293.595K</text>
<path d="M1558,371H1602Q1604,371 1604,373V390Q1604,392 1602,392H1558Z" fill="#ace5dc"/>
<text x="1568.8" y="386.9" fill="#000" font-size="15.2" text-anchor="start" textLength="29" lengthAdjust="spacingAndGlyphs">0.33</text>
<path d="M1558,403H1610Q1612,403 1612,405V422Q1612,424 1610,424H1558Z" fill="#2196f3"/>
<text x="1568.8" y="418.9" fill="#fff" font-size="15.2" text-anchor="start" textLength="36.5" lengthAdjust="spacingAndGlyphs">−0.98</text>
<path d="M1558,424H1610Q1612,424 1612,426V443Q1612,445 1610,445H1558Z" fill="#ff6d00"/>
<text x="1568.8" y="439.9" fill="#fff" font-size="15.2" text-anchor="start" textLength="36.5" lengthAdjust="spacingAndGlyphs">−1.31</text>
<path d="M1558,553H1610Q1612,553 1612,555V572Q1612,574 1610,574H1558Z" fill="#7e57c2"/>
<text x="1568.8" y="568.9" fill="#fff" font-size="15.2" text-anchor="start" textLength="36.5" lengthAdjust="spacingAndGlyphs">42.41</text>
<text x="159" y="662" fill="#4a4a4a" font-size="14" text-anchor="middle">Sep</text>
<text x="317" y="662" fill="#4a4a4a" font-size="14" text-anchor="middle">Oct</text>
<text x="489" y="662" fill="#4a4a4a" font-size="14" text-anchor="middle">Nov</text>
<text x="647" y="662" fill="#4a4a4a" font-size="14" text-anchor="middle">Dec</text>
<text x="812" y="662" fill="#4a4a4a" font-size="14.5" text-anchor="middle" textLength="33.5" lengthAdjust="spacingAndGlyphs" font-weight="bold">2025</text>
<text x="984" y="662" fill="#4a4a4a" font-size="14" text-anchor="middle">Feb</text>
<text x="1134" y="662" fill="#4a4a4a" font-size="14" text-anchor="middle">Mar</text>
<text x="1292" y="662" fill="#4a4a4a" font-size="14" text-anchor="middle">Apr</text>
<text x="1457" y="662" fill="#4a4a4a" font-size="14" text-anchor="middle">May</text>
<text x="23.5" y="37.6" fill="#4a4a4a" font-size="15.2" text-anchor="start" textLength="118.5" lengthAdjust="spacingAndGlyphs">USD/JPY Spot, 1D</text>
<text x="151.5" y="37.6" fill="#4a4a4a" font-size="15.2" text-anchor="start" textLength="9.5" lengthAdjust="spacingAndGlyphs">O</text>
<text x="162.8" y="37.6" fill="#e60000" font-size="15.2" text-anchor="start" textLength="42" lengthAdjust="spacingAndGlyphs">143.71</text>
<text x="216" y="37.6" fill="#4a4a4a" font-size="15.2" text-anchor="start" textLength="8.3" lengthAdjust="spacingAndGlyphs">H</text>
<text x="226" y="37.6" fill="#e60000" font-size="15.2" text-anchor="start" textLength="43.3" lengthAdjust="spacingAndGlyphs">144.28</text>
<text x="279.3" y="37.6" fill="#4a4a4a" font-size="15.2" text-anchor="start" textLength="7" lengthAdjust="spacingAndGlyphs">L</text>
<text x="288" y="37.6" fill="#e60000" font-size="15.2" text-anchor="start" textLength="42.8" lengthAdjust="spacingAndGlyphs">142.35</text>
<text x="340.8" y="37.6" fill="#4a4a4a" font-size="15.2" text-anchor="start" textLength="8" lengthAdjust="spacingAndGlyphs">C</text>
<text x="350.8" y="37.6" fill="#e60000" font-size="15.2" text-anchor="start" textLength="43.4" lengthAdjust="spacingAndGlyphs">142.49</text>
<text x="403.7" y="37.6" fill="#e60000" font-size="15.2" text-anchor="start" textLength="97.6" lengthAdjust="spacingAndGlyphs">−1.20 (−0.84%)</text>
<text x="23.5" y="58.7" fill="#4a4a4a" font-size="15.2" text-anchor="start" textLength="48" lengthAdjust="spacingAndGlyphs">Volume</text>
<text x="81.5" y="58.7" fill="#f7525f" font-size="15.2" text-anchor="start" textLength="61.2" lengthAdjust="spacingAndGlyphs">293.595K</text>
<text x="23.5" y="79.6" fill="#4a4a4a" font-size="15.2" text-anchor="start" textLength="298.2" lengthAdjust="spacingAndGlyphs">Moving Average Triple (20, 100, 200, Simple)</text>
<text x="333" y="79.6" fill="#ff6d00" font-size="15.2" text-anchor="start" textLength="43.7" lengthAdjust="spacingAndGlyphs">143.24</text>
<text x="386.7" y="79.6" fill="#2196f3" font-size="15.2" text-anchor="start" textLength="42.1" lengthAdjust="spacingAndGlyphs">150.81</text>
<text x="440.3" y="79.6" fill="#26c6da" font-size="15.2" text-anchor="start" textLength="43.4" lengthAdjust="spacingAndGlyphs">149.72</text>
<text x="23.5" y="100.8" fill="#4a4a4a" font-size="15.2" text-anchor="start" textLength="119.7" lengthAdjust="spacingAndGlyphs">EMA (10, close, 0)</text>
<text x="153.7" y="100.8" fill="#2196f3" font-size="15.2" text-anchor="start" textLength="44.1" lengthAdjust="spacingAndGlyphs">143.44</text>
<text x="22.6" y="351.3" fill="#4a4a4a" font-size="15.2" text-anchor="start" textLength="156.4" lengthAdjust="spacingAndGlyphs">MACD (12, 26, close, 9)</text>
<text x="189" y="351.3" fill="#ace5dc" font-size="15.2" text-anchor="start" textLength="28.5" lengthAdjust="spacingAndGlyphs">0.33</text>
<text x="227.5" y="351.3" fill="#2196f3" font-size="15.2" text-anchor="start" textLength="36" lengthAdjust="spacingAndGlyphs">−0.98</text>
<text x="273.5" y="351.3" fill="#ff6d00" font-size="15.2" text-anchor="start" textLength="35" lengthAdjust="spacingAndGlyphs">−1.31</text>
<text x="23.5" y="508.3" fill="#4a4a4a" font-size="15.2" text-anchor="start" textLength="50" lengthAdjust="spacingAndGlyphs">RSI (14)</text>
<text x="84" y="508.3" fill="#7e57c2" font-size="15.2" text-anchor="start" textLength="35" lengthAdjust="spacingAndGlyphs">42.41</text>
<g fill="#131722">
<path d="M13,689.9H22.9V702H17.9V694.8H13Z"/>
<circle cx="26.85" cy="692.4" r="2.55"/>
<path d="M31.8,689.9H37.4L32.6,702H27Z"/>
</g>
<text x="41.8" y="702" fill="#131722" font-size="15" text-anchor="start" textLength="87.8" lengthAdjust="spacingAndGlyphs">TradingView</text>
</svg>
</body></html>
